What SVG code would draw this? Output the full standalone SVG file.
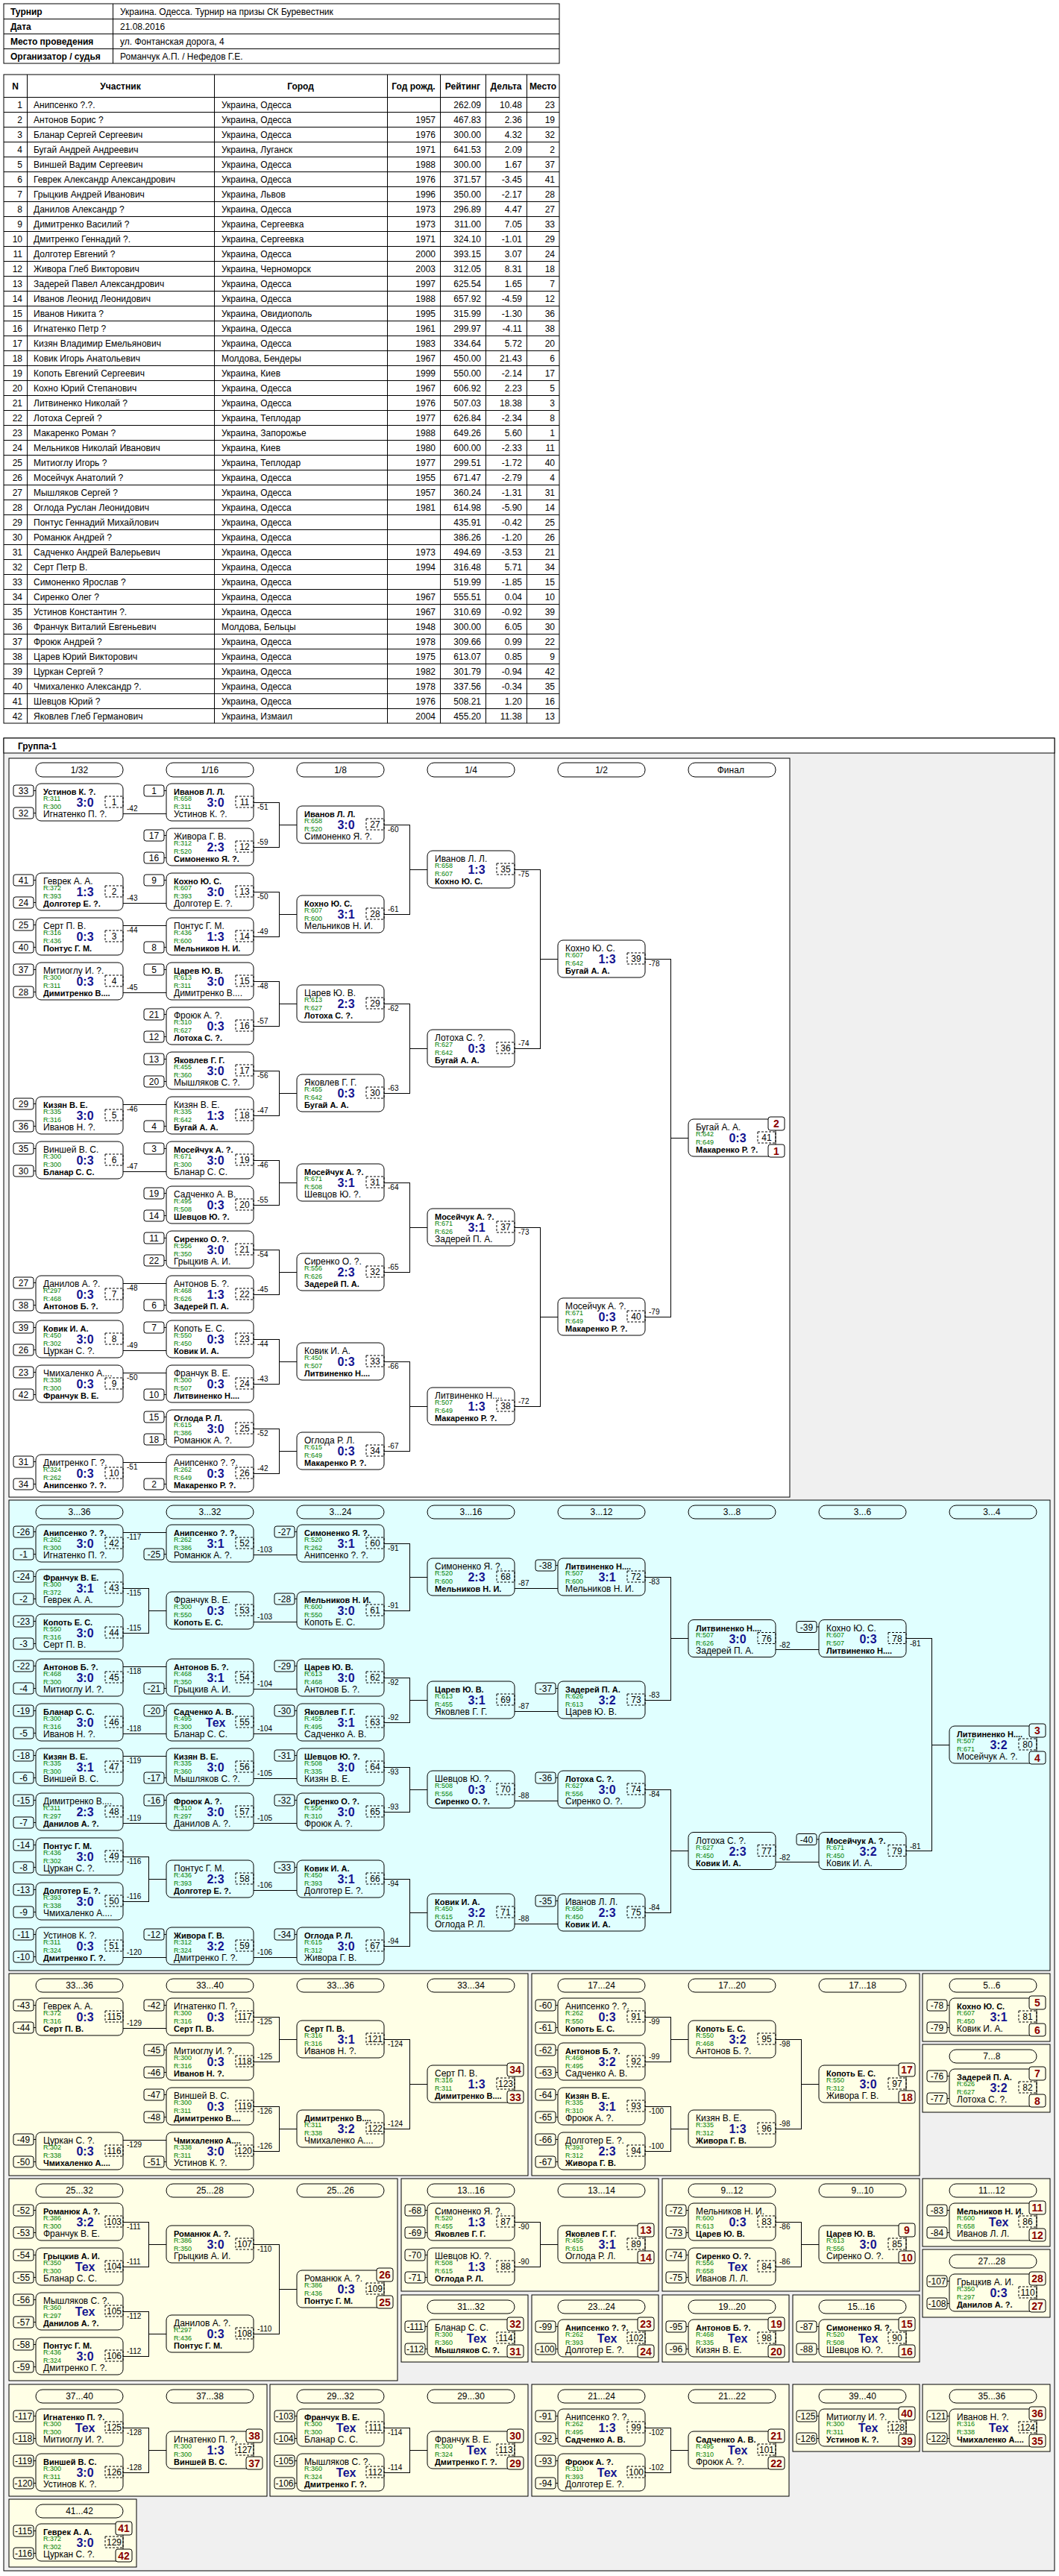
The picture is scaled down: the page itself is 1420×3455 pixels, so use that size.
<svg xmlns="http://www.w3.org/2000/svg" xmlns:xlink="http://www.w3.org/1999/xlink" width="1420" height="3455" viewBox="0 0 1420 3455">
<style>
text{font-family:"Liberation Sans",Arial,sans-serif;fill:#000}
.b{fill:none;stroke:#000}
.nb{fill:none;stroke:#000;stroke-dasharray:3 2}
.sb{fill:none;stroke:#000}
.tk{stroke:#000}
.pb{stroke:#000}
.w{font-size:11px;font-weight:bold}
.p{font-size:12px}
.r{font-size:9px;fill:#008000}
.s{font-size:16px;font-weight:bold;fill:#141490;text-anchor:middle}
.nt{font-size:12px;text-anchor:middle}
.st{font-size:12px;text-anchor:middle}
.pt{font-size:14px;font-weight:bold;fill:#8b0000;text-anchor:middle}
.l{font-size:10px}
.cn path{fill:none;stroke:#000}
.pl{fill:none;stroke:#000}
.ph{font-size:12px;text-anchor:middle}
.tb{font-size:12px}
.tbb{font-size:12px;font-weight:bold}
.e{text-anchor:end}
.grid{fill:none;stroke:#000}
</style>
<defs>
<g id="bx"><rect class="b" width="117" height="50" rx="7"/><rect class="nb" x="93" y="17" width="24" height="15"/></g>
<g id="sT"><rect class="sb" x="-30" y="2" width="27" height="15" rx="3"/><path class="tk" d="M-3 9.5H0"/></g>
<g id="sB"><rect class="sb" x="-30" y="32" width="27" height="15" rx="3"/><path class="tk" d="M-3 39.5H0"/></g>
<rect id="pT" class="pb" x="107" y="-3" width="22" height="18" rx="3"/>
<rect id="pB" class="pb" x="107" y="34" width="22" height="17" rx="3"/>
</defs>
<rect width="1420" height="3455" fill="#fff"/>

<g id="info">
<rect class="grid" x="5" y="5" width="745" height="80"/>
<path class="grid" shape-rendering="crispEdges" d="M5 25H750M5 45H750M5 65H750M151 5V85"/>
<text class="tbb" x="14" y="19.5">Турнир</text><text class="tb" x="161" y="19.5">Украина. Одесса. Турнир на призы СК Буревестник</text>
<text class="tbb" x="14" y="39.5">Дата</text><text class="tb" x="161" y="39.5">21.08.2016</text>
<text class="tbb" x="14" y="59.5">Место проведения</text><text class="tb" x="161" y="59.5">ул. Фонтанская дорога, 4</text>
<text class="tbb" x="14" y="79.5">Организатор / судья</text><text class="tb" x="161" y="79.5">Романчук А.П. / Нефедов Г.Е.</text>
</g>

<g id="participants">
<rect class="grid" x="5" y="100" width="745" height="870"/>
<path class="grid" shape-rendering="crispEdges" d="M36 100V970M287 100V970M519 100V970M590 100V970M651 100V970M706 100V970M5 130H750M5 150H750M5 170H750M5 190H750M5 210H750M5 230H750M5 250H750M5 270H750M5 290H750M5 310H750M5 330H750M5 350H750M5 370H750M5 390H750M5 410H750M5 430H750M5 450H750M5 470H750M5 490H750M5 510H750M5 530H750M5 550H750M5 570H750M5 590H750M5 610H750M5 630H750M5 650H750M5 670H750M5 690H750M5 710H750M5 730H750M5 750H750M5 770H750M5 790H750M5 810H750M5 830H750M5 850H750M5 870H750M5 890H750M5 910H750M5 930H750M5 950H750"/>
<text class="tbb" text-anchor="middle" y="119.5"><tspan x="20.5">N</tspan><tspan x="161.5">Участник</tspan><tspan x="403">Город</tspan><tspan x="554.5">Год рожд.</tspan><tspan x="620.5">Рейтинг</tspan><tspan x="678.5">Дельта</tspan><tspan x="728">Место</tspan></text>
<text class="tb e"><tspan x="30" y="144.5">1</tspan><tspan x="30" dy="20">2</tspan><tspan x="30" dy="20">3</tspan><tspan x="30" dy="20">4</tspan><tspan x="30" dy="20">5</tspan><tspan x="30" dy="20">6</tspan><tspan x="30" dy="20">7</tspan><tspan x="30" dy="20">8</tspan><tspan x="30" dy="20">9</tspan><tspan x="30" dy="20">10</tspan><tspan x="30" dy="20">11</tspan><tspan x="30" dy="20">12</tspan><tspan x="30" dy="20">13</tspan><tspan x="30" dy="20">14</tspan><tspan x="30" dy="20">15</tspan><tspan x="30" dy="20">16</tspan><tspan x="30" dy="20">17</tspan><tspan x="30" dy="20">18</tspan><tspan x="30" dy="20">19</tspan><tspan x="30" dy="20">20</tspan><tspan x="30" dy="20">21</tspan><tspan x="30" dy="20">22</tspan><tspan x="30" dy="20">23</tspan><tspan x="30" dy="20">24</tspan><tspan x="30" dy="20">25</tspan><tspan x="30" dy="20">26</tspan><tspan x="30" dy="20">27</tspan><tspan x="30" dy="20">28</tspan><tspan x="30" dy="20">29</tspan><tspan x="30" dy="20">30</tspan><tspan x="30" dy="20">31</tspan><tspan x="30" dy="20">32</tspan><tspan x="30" dy="20">33</tspan><tspan x="30" dy="20">34</tspan><tspan x="30" dy="20">35</tspan><tspan x="30" dy="20">36</tspan><tspan x="30" dy="20">37</tspan><tspan x="30" dy="20">38</tspan><tspan x="30" dy="20">39</tspan><tspan x="30" dy="20">40</tspan><tspan x="30" dy="20">41</tspan><tspan x="30" dy="20">42</tspan></text>
<text class="tb"><tspan x="45" y="144.5">Анипсенко ?.?.</tspan><tspan x="45" dy="20">Антонов Борис ?</tspan><tspan x="45" dy="20">Бланар Сергей Сергеевич</tspan><tspan x="45" dy="20">Бугай Андрей Андреевич</tspan><tspan x="45" dy="20">Виншей Вадим Сергеевич</tspan><tspan x="45" dy="20">Геврек Александр Александрович</tspan><tspan x="45" dy="20">Грыцкив Андрей Иванович</tspan><tspan x="45" dy="20">Данилов Александр ?</tspan><tspan x="45" dy="20">Димитренко Василий ?</tspan><tspan x="45" dy="20">Дмитренко Геннадий ?.</tspan><tspan x="45" dy="20">Долготер Евгений ?</tspan><tspan x="45" dy="20">Живора Глеб Викторович</tspan><tspan x="45" dy="20">Задерей Павел Александрович</tspan><tspan x="45" dy="20">Иванов Леонид Леонидович</tspan><tspan x="45" dy="20">Иванов Никита ?</tspan><tspan x="45" dy="20">Игнатенко Петр ?</tspan><tspan x="45" dy="20">Кизян Владимир Емельянович</tspan><tspan x="45" dy="20">Ковик Игорь Анатольевич</tspan><tspan x="45" dy="20">Копоть Евгений Сергеевич</tspan><tspan x="45" dy="20">Кохно Юрий Степанович</tspan><tspan x="45" dy="20">Литвиненко Николай ?</tspan><tspan x="45" dy="20">Лотоха Сергей ?</tspan><tspan x="45" dy="20">Макаренко Роман ?</tspan><tspan x="45" dy="20">Мельников Николай Иванович</tspan><tspan x="45" dy="20">Митиоглу Игорь ?</tspan><tspan x="45" dy="20">Мосейчук Анатолий ?</tspan><tspan x="45" dy="20">Мышляков Сергей ?</tspan><tspan x="45" dy="20">Оглода Руслан Леонидович</tspan><tspan x="45" dy="20">Понтус Геннадий Михайлович</tspan><tspan x="45" dy="20">Романюк Андрей ?</tspan><tspan x="45" dy="20">Садченко Андрей Валерьевич</tspan><tspan x="45" dy="20">Серт Петр В.</tspan><tspan x="45" dy="20">Симоненко Ярослав ?</tspan><tspan x="45" dy="20">Сиренко Олег ?</tspan><tspan x="45" dy="20">Устинов Константин ?.</tspan><tspan x="45" dy="20">Франчук Виталий Евгеньевич</tspan><tspan x="45" dy="20">Фроюк Андрей ?</tspan><tspan x="45" dy="20">Царев Юрий Викторович</tspan><tspan x="45" dy="20">Цуркан Сергей ?</tspan><tspan x="45" dy="20">Чмихаленко Александр ?.</tspan><tspan x="45" dy="20">Шевцов Юрий ?</tspan><tspan x="45" dy="20">Яковлев Глеб Германович</tspan></text>
<text class="tb"><tspan x="297" y="144.5">Украина, Одесса</tspan><tspan x="297" dy="20">Украина, Одесса</tspan><tspan x="297" dy="20">Украина, Одесса</tspan><tspan x="297" dy="20">Украина, Луганск</tspan><tspan x="297" dy="20">Украина, Одесса</tspan><tspan x="297" dy="20">Украина, Одесса</tspan><tspan x="297" dy="20">Украина, Львов</tspan><tspan x="297" dy="20">Украина, Одесса</tspan><tspan x="297" dy="20">Украина, Сергеевка</tspan><tspan x="297" dy="20">Украина, Сергеевка</tspan><tspan x="297" dy="20">Украина, Одесса</tspan><tspan x="297" dy="20">Украина, Черноморск</tspan><tspan x="297" dy="20">Украина, Одесса</tspan><tspan x="297" dy="20">Украина, Одесса</tspan><tspan x="297" dy="20">Украина, Овидиополь</tspan><tspan x="297" dy="20">Украина, Одесса</tspan><tspan x="297" dy="20">Украина, Одесса</tspan><tspan x="297" dy="20">Молдова, Бендеры</tspan><tspan x="297" dy="20">Украина, Киев</tspan><tspan x="297" dy="20">Украина, Одесса</tspan><tspan x="297" dy="20">Украина, Одесса</tspan><tspan x="297" dy="20">Украина, Теплодар</tspan><tspan x="297" dy="20">Украина, Запорожье</tspan><tspan x="297" dy="20">Украина, Киев</tspan><tspan x="297" dy="20">Украина, Теплодар</tspan><tspan x="297" dy="20">Украина, Одесса</tspan><tspan x="297" dy="20">Украина, Одесса</tspan><tspan x="297" dy="20">Украина, Одесса</tspan><tspan x="297" dy="20">Украина, Одесса</tspan><tspan x="297" dy="20">Украина, Одесса</tspan><tspan x="297" dy="20">Украина, Одесса</tspan><tspan x="297" dy="20">Украина, Одесса</tspan><tspan x="297" dy="20">Украина, Одесса</tspan><tspan x="297" dy="20">Украина, Одесса</tspan><tspan x="297" dy="20">Украина, Одесса</tspan><tspan x="297" dy="20">Молдова, Бельцы</tspan><tspan x="297" dy="20">Украина, Одесса</tspan><tspan x="297" dy="20">Украина, Одесса</tspan><tspan x="297" dy="20">Украина, Одесса</tspan><tspan x="297" dy="20">Украина, Одесса</tspan><tspan x="297" dy="20">Украина, Одесса</tspan><tspan x="297" dy="20">Украина, Измаил</tspan></text>
<text class="tb e"><tspan x="584" y="164.5">1957</tspan><tspan x="584" dy="20">1976</tspan><tspan x="584" dy="20">1971</tspan><tspan x="584" dy="20">1988</tspan><tspan x="584" dy="20">1976</tspan><tspan x="584" dy="20">1996</tspan><tspan x="584" dy="20">1973</tspan><tspan x="584" dy="20">1973</tspan><tspan x="584" dy="20">1971</tspan><tspan x="584" dy="20">2000</tspan><tspan x="584" dy="20">2003</tspan><tspan x="584" dy="20">1997</tspan><tspan x="584" dy="20">1988</tspan><tspan x="584" dy="20">1995</tspan><tspan x="584" dy="20">1961</tspan><tspan x="584" dy="20">1983</tspan><tspan x="584" dy="20">1967</tspan><tspan x="584" dy="20">1999</tspan><tspan x="584" dy="20">1967</tspan><tspan x="584" dy="20">1976</tspan><tspan x="584" dy="20">1977</tspan><tspan x="584" dy="20">1988</tspan><tspan x="584" dy="20">1980</tspan><tspan x="584" dy="20">1977</tspan><tspan x="584" dy="20">1955</tspan><tspan x="584" dy="20">1957</tspan><tspan x="584" dy="20">1981</tspan><tspan x="584" y="744.5">1973</tspan><tspan x="584" dy="20">1994</tspan><tspan x="584" y="804.5">1967</tspan><tspan x="584" dy="20">1967</tspan><tspan x="584" dy="20">1948</tspan><tspan x="584" dy="20">1978</tspan><tspan x="584" dy="20">1975</tspan><tspan x="584" dy="20">1982</tspan><tspan x="584" dy="20">1978</tspan><tspan x="584" dy="20">1976</tspan><tspan x="584" dy="20">2004</tspan></text>
<text class="tb e"><tspan x="645" y="144.5">262.09</tspan><tspan x="645" dy="20">467.83</tspan><tspan x="645" dy="20">300.00</tspan><tspan x="645" dy="20">641.53</tspan><tspan x="645" dy="20">300.00</tspan><tspan x="645" dy="20">371.57</tspan><tspan x="645" dy="20">350.00</tspan><tspan x="645" dy="20">296.89</tspan><tspan x="645" dy="20">311.00</tspan><tspan x="645" dy="20">324.10</tspan><tspan x="645" dy="20">393.15</tspan><tspan x="645" dy="20">312.05</tspan><tspan x="645" dy="20">625.54</tspan><tspan x="645" dy="20">657.92</tspan><tspan x="645" dy="20">315.99</tspan><tspan x="645" dy="20">299.97</tspan><tspan x="645" dy="20">334.64</tspan><tspan x="645" dy="20">450.00</tspan><tspan x="645" dy="20">550.00</tspan><tspan x="645" dy="20">606.92</tspan><tspan x="645" dy="20">507.03</tspan><tspan x="645" dy="20">626.84</tspan><tspan x="645" dy="20">649.26</tspan><tspan x="645" dy="20">600.00</tspan><tspan x="645" dy="20">299.51</tspan><tspan x="645" dy="20">671.47</tspan><tspan x="645" dy="20">360.24</tspan><tspan x="645" dy="20">614.98</tspan><tspan x="645" dy="20">435.91</tspan><tspan x="645" dy="20">386.26</tspan><tspan x="645" dy="20">494.69</tspan><tspan x="645" dy="20">316.48</tspan><tspan x="645" dy="20">519.99</tspan><tspan x="645" dy="20">555.51</tspan><tspan x="645" dy="20">310.69</tspan><tspan x="645" dy="20">300.00</tspan><tspan x="645" dy="20">309.66</tspan><tspan x="645" dy="20">613.07</tspan><tspan x="645" dy="20">301.79</tspan><tspan x="645" dy="20">337.56</tspan><tspan x="645" dy="20">508.21</tspan><tspan x="645" dy="20">455.20</tspan></text>
<text class="tb e"><tspan x="700" y="144.5">10.48</tspan><tspan x="700" dy="20">2.36</tspan><tspan x="700" dy="20">4.32</tspan><tspan x="700" dy="20">2.09</tspan><tspan x="700" dy="20">1.67</tspan><tspan x="700" dy="20">-3.45</tspan><tspan x="700" dy="20">-2.17</tspan><tspan x="700" dy="20">4.47</tspan><tspan x="700" dy="20">7.05</tspan><tspan x="700" dy="20">-1.01</tspan><tspan x="700" dy="20">3.07</tspan><tspan x="700" dy="20">8.31</tspan><tspan x="700" dy="20">1.65</tspan><tspan x="700" dy="20">-4.59</tspan><tspan x="700" dy="20">-1.30</tspan><tspan x="700" dy="20">-4.11</tspan><tspan x="700" dy="20">5.72</tspan><tspan x="700" dy="20">21.43</tspan><tspan x="700" dy="20">-2.14</tspan><tspan x="700" dy="20">2.23</tspan><tspan x="700" dy="20">18.38</tspan><tspan x="700" dy="20">-2.34</tspan><tspan x="700" dy="20">5.60</tspan><tspan x="700" dy="20">-2.33</tspan><tspan x="700" dy="20">-1.72</tspan><tspan x="700" dy="20">-2.79</tspan><tspan x="700" dy="20">-1.31</tspan><tspan x="700" dy="20">-5.90</tspan><tspan x="700" dy="20">-0.42</tspan><tspan x="700" dy="20">-1.20</tspan><tspan x="700" dy="20">-3.53</tspan><tspan x="700" dy="20">5.71</tspan><tspan x="700" dy="20">-1.85</tspan><tspan x="700" dy="20">0.04</tspan><tspan x="700" dy="20">-0.92</tspan><tspan x="700" dy="20">6.05</tspan><tspan x="700" dy="20">0.99</tspan><tspan x="700" dy="20">0.85</tspan><tspan x="700" dy="20">-0.94</tspan><tspan x="700" dy="20">-0.34</tspan><tspan x="700" dy="20">1.20</tspan><tspan x="700" dy="20">11.38</tspan></text>
<text class="tb e"><tspan x="744" y="144.5">23</tspan><tspan x="744" dy="20">19</tspan><tspan x="744" dy="20">32</tspan><tspan x="744" dy="20">2</tspan><tspan x="744" dy="20">37</tspan><tspan x="744" dy="20">41</tspan><tspan x="744" dy="20">28</tspan><tspan x="744" dy="20">27</tspan><tspan x="744" dy="20">33</tspan><tspan x="744" dy="20">29</tspan><tspan x="744" dy="20">24</tspan><tspan x="744" dy="20">18</tspan><tspan x="744" dy="20">7</tspan><tspan x="744" dy="20">12</tspan><tspan x="744" dy="20">36</tspan><tspan x="744" dy="20">38</tspan><tspan x="744" dy="20">20</tspan><tspan x="744" dy="20">6</tspan><tspan x="744" dy="20">17</tspan><tspan x="744" dy="20">5</tspan><tspan x="744" dy="20">3</tspan><tspan x="744" dy="20">8</tspan><tspan x="744" dy="20">1</tspan><tspan x="744" dy="20">11</tspan><tspan x="744" dy="20">40</tspan><tspan x="744" dy="20">4</tspan><tspan x="744" dy="20">31</tspan><tspan x="744" dy="20">14</tspan><tspan x="744" dy="20">25</tspan><tspan x="744" dy="20">26</tspan><tspan x="744" dy="20">21</tspan><tspan x="744" dy="20">34</tspan><tspan x="744" dy="20">15</tspan><tspan x="744" dy="20">10</tspan><tspan x="744" dy="20">39</tspan><tspan x="744" dy="20">30</tspan><tspan x="744" dy="20">22</tspan><tspan x="744" dy="20">9</tspan><tspan x="744" dy="20">42</tspan><tspan x="744" dy="20">35</tspan><tspan x="744" dy="20">16</tspan><tspan x="744" dy="20">13</tspan></text>
</g>

<g id="panels">
<rect x="5" y="990" width="1409" height="2458" fill="#f0f0f0" stroke="#000"/>
<rect x="5" y="990" width="1409" height="20" fill="#fff" stroke="#000"/>
<text class="tbb" x="24" y="1004.5">Группа-1</text>
<rect x="12" y="1017" width="1047" height="991" fill="#fff" stroke="#000"/>
<rect x="12" y="2012" width="1396" height="631" fill="#e0ffff" stroke="#000"/>
<g fill="#ffffe6" stroke="#000">
<rect x="12" y="2647" width="696" height="271"/>
<rect x="713" y="2647" width="520" height="271"/>
<rect x="1237" y="2647" width="171" height="91"/>
<rect x="1237" y="2742" width="171" height="91"/>
<rect x="12" y="2922" width="521" height="271"/>
<rect x="538" y="2922" width="345" height="151"/>
<rect x="888" y="2922" width="345" height="151"/>
<rect x="1237" y="2922" width="171" height="91"/>
<rect x="1237" y="3017" width="171" height="91"/>
<rect x="538" y="3078" width="170" height="90"/>
<rect x="713" y="3078" width="170" height="90"/>
<rect x="888" y="3078" width="170" height="90"/>
<rect x="1063" y="3078" width="170" height="90"/>
<rect x="12" y="3198" width="346" height="150"/>
<rect x="362" y="3198" width="346" height="150"/>
<rect x="713" y="3198" width="345" height="150"/>
<rect x="1063" y="3198" width="170" height="90"/>
<rect x="1237" y="3198" width="171" height="90"/>
<rect x="12" y="3352" width="171" height="91"/>
</g>
<g id="round-headers">
<g class="pl">
<rect x="48" y="1023" width="117" height="19" rx="9"/><rect x="223" y="1023" width="117" height="19" rx="9"/><rect x="398" y="1023" width="117" height="19" rx="9"/><rect x="573" y="1023" width="117" height="19" rx="9"/><rect x="748" y="1023" width="117" height="19" rx="9"/><rect x="923" y="1023" width="117" height="19" rx="9"/>
<rect x="48" y="2019" width="117" height="18" rx="9"/><rect x="223" y="2019" width="117" height="18" rx="9"/><rect x="398" y="2019" width="117" height="18" rx="9"/><rect x="573" y="2019" width="117" height="18" rx="9"/><rect x="748" y="2019" width="117" height="18" rx="9"/><rect x="923" y="2019" width="117" height="18" rx="9"/><rect x="1098" y="2019" width="117" height="18" rx="9"/><rect x="1273" y="2019" width="117" height="18" rx="9"/>
<rect x="48" y="2654" width="117" height="18" rx="9"/><rect x="223" y="2654" width="117" height="18" rx="9"/><rect x="398" y="2654" width="117" height="18" rx="9"/><rect x="573" y="2654" width="117" height="18" rx="9"/><rect x="748" y="2654" width="117" height="18" rx="9"/><rect x="923" y="2654" width="117" height="18" rx="9"/><rect x="1098" y="2654" width="117" height="18" rx="9"/><rect x="1273" y="2654" width="117" height="18" rx="9"/>
<rect x="1273" y="2749" width="117" height="18" rx="9"/>
<rect x="48" y="2929" width="117" height="18" rx="9"/><rect x="223" y="2929" width="117" height="18" rx="9"/><rect x="398" y="2929" width="117" height="18" rx="9"/><rect x="573" y="2929" width="117" height="18" rx="9"/><rect x="748" y="2929" width="117" height="18" rx="9"/><rect x="923" y="2929" width="117" height="18" rx="9"/><rect x="1098" y="2929" width="117" height="18" rx="9"/><rect x="1273" y="2929" width="117" height="18" rx="9"/>
<rect x="1273" y="3024" width="117" height="18" rx="9"/>
<rect x="573" y="3085" width="117" height="18" rx="9"/><rect x="748" y="3085" width="117" height="18" rx="9"/><rect x="923" y="3085" width="117" height="18" rx="9"/><rect x="1098" y="3085" width="117" height="18" rx="9"/>
<rect x="48" y="3205" width="117" height="18" rx="9"/><rect x="223" y="3205" width="117" height="18" rx="9"/><rect x="398" y="3205" width="117" height="18" rx="9"/><rect x="573" y="3205" width="117" height="18" rx="9"/><rect x="748" y="3205" width="117" height="18" rx="9"/><rect x="923" y="3205" width="117" height="18" rx="9"/><rect x="1098" y="3205" width="117" height="18" rx="9"/><rect x="1273" y="3205" width="117" height="18" rx="9"/>
<rect x="48" y="3359" width="117" height="18" rx="9"/>
</g>
<text class="ph"><tspan x="106.5" y="1037">1/32</tspan><tspan x="281.5" y="1037">1/16</tspan><tspan x="456.5" y="1037">1/8</tspan><tspan x="631.5" y="1037">1/4</tspan><tspan x="806.5" y="1037">1/2</tspan><tspan x="981.5" y="1037">Финал</tspan>
<tspan x="106.5" y="2032">3...36</tspan><tspan x="281.5" y="2032">3...32</tspan><tspan x="456.5" y="2032">3...24</tspan><tspan x="631.5" y="2032">3...16</tspan><tspan x="806.5" y="2032">3...12</tspan><tspan x="981.5" y="2032">3...8</tspan><tspan x="1156.5" y="2032">3...6</tspan><tspan x="1331.5" y="2032">3...4</tspan>
<tspan x="106.5" y="2667">33...36</tspan><tspan x="281.5" y="2667">33...40</tspan><tspan x="456.5" y="2667">33...36</tspan><tspan x="631.5" y="2667">33...34</tspan><tspan x="806.5" y="2667">17...24</tspan><tspan x="981.5" y="2667">17...20</tspan><tspan x="1156.5" y="2667">17...18</tspan><tspan x="1331.5" y="2667">5...6</tspan>
<tspan x="1331.5" y="2762">7...8</tspan>
<tspan x="106.5" y="2942">25...32</tspan><tspan x="281.5" y="2942">25...28</tspan><tspan x="456.5" y="2942">25...26</tspan><tspan x="631.5" y="2942">13...16</tspan><tspan x="806.5" y="2942">13...14</tspan><tspan x="981.5" y="2942">9...12</tspan><tspan x="1156.5" y="2942">9...10</tspan><tspan x="1331.5" y="2942">11...12</tspan>
<tspan x="1331.5" y="3037">27...28</tspan>
<tspan x="631.5" y="3098">31...32</tspan><tspan x="806.5" y="3098">23...24</tspan><tspan x="981.5" y="3098">19...20</tspan><tspan x="1156.5" y="3098">15...16</tspan>
<tspan x="106.5" y="3218">37...40</tspan><tspan x="281.5" y="3218">37...38</tspan><tspan x="456.5" y="3218">29...32</tspan><tspan x="631.5" y="3218">29...30</tspan><tspan x="806.5" y="3218">21...24</tspan><tspan x="981.5" y="3218">21...22</tspan><tspan x="1156.5" y="3218">39...40</tspan><tspan x="1331.5" y="3218">35...36</tspan>
<tspan x="106.5" y="3372">41...42</tspan></text>
</g>
</g>

<g id="connectors" class="cn" shape-rendering="crispEdges">
<path d="M165 1091H223M165 1211H223M165 1241H223M165 1331H223M165 1481H223M165 1571H223M165 1721H223M165 1811H223M165 1841H223M165 1961H223"/>
<path d="M340 1076H374V1136H340M374 1106H398M340 1196H374V1256H340M374 1226H398M340 1316H374V1376H340M374 1346H398M340 1436H374V1496H340M374 1466H398M340 1556H374V1616H340M374 1586H398M340 1676H374V1736H340M374 1706H398M340 1796H374V1856H340M374 1826H398M340 1916H374V1976H340M374 1946H398"/>
<path d="M515 1106H549V1226H515M549 1166H573M515 1346H549V1466H515M549 1406H573M515 1586H549V1706H515M549 1646H573M515 1826H549V1946H515M549 1886H573"/>
<path d="M690 1166H724V1406H690M724 1286H748M690 1646H724V1886H690M724 1766H748M865 1286H899V1766H865M899 1526H923"/>
<path d="M165 2055H223M165 2235H223M165 2325H223M165 2355H223M165 2445H223M165 2625H223M165 2130H199V2190H165M199 2160H223M165 2490H199V2550H165M199 2520H223"/>
<path d="M340 2085H398M340 2175H398M340 2265H398M340 2325H398M340 2385H398M340 2445H398M340 2535H398M340 2625H398"/>
<path d="M515 2070H549V2160H515M549 2115H573M515 2250H549V2310H515M549 2280H573M515 2370H549V2430H515M549 2400H573M515 2520H549V2610H515M549 2565H573"/>
<path d="M690 2130H748M690 2295H748M690 2415H748M690 2580H748M865 2115H899V2280H865M899 2197.5H923M865 2400H899V2565H865M899 2482.5H923M1040 2212.5H1098M1040 2497.5H1098M1215 2197.5H1249V2482.5H1215M1249 2340H1273"/>
<path d="M165 2720H223M165 2870H223M340 2705H374V2765H340M374 2735H398M340 2825H374V2885H340M374 2855H398M515 2735H549V2855H515M549 2795H573"/>
<path d="M865 2705H899V2765H865M899 2735H923M865 2825H899V2885H865M899 2855H923M1040 2735H1074V2855H1040M1074 2795H1098"/>
<path d="M165 2980H199V3040H165M199 3010H223M165 3100H199V3160H165M199 3130H223M340 3010H374V3130H340M374 3070H398M690 2980H724V3040H690M724 3010H748M1040 2980H1074V3040H1040M1074 3010H1098"/>
<path d="M165 3256H199V3316H165M199 3286H223M515 3256H549V3316H515M549 3286H573M865 3256H899V3316H865M899 3286H923"/>
<text class="l"><tspan x="170" y="1088">-42</tspan><tspan x="170" y="1208">-43</tspan><tspan x="170" y="1251">-44</tspan><tspan x="170" y="1328">-45</tspan><tspan x="170" y="1491">-46</tspan><tspan x="170" y="1568">-47</tspan><tspan x="170" y="1731">-48</tspan><tspan x="170" y="1808">-49</tspan><tspan x="170" y="1851">-50</tspan><tspan x="170" y="1971">-51</tspan>
<tspan x="345" y="1086">-51</tspan><tspan x="345" y="1133">-59</tspan><tspan x="345" y="1206">-50</tspan><tspan x="345" y="1253">-49</tspan><tspan x="345" y="1326">-48</tspan><tspan x="345" y="1373">-57</tspan><tspan x="345" y="1446">-56</tspan><tspan x="345" y="1493">-47</tspan><tspan x="345" y="1566">-46</tspan><tspan x="345" y="1613">-55</tspan><tspan x="345" y="1686">-54</tspan><tspan x="345" y="1733">-45</tspan><tspan x="345" y="1806">-44</tspan><tspan x="345" y="1853">-43</tspan><tspan x="345" y="1926">-52</tspan><tspan x="345" y="1973">-42</tspan>
<tspan x="520" y="1116">-60</tspan><tspan x="520" y="1223">-61</tspan><tspan x="520" y="1356">-62</tspan><tspan x="520" y="1463">-63</tspan><tspan x="520" y="1596">-64</tspan><tspan x="520" y="1703">-65</tspan><tspan x="520" y="1836">-66</tspan><tspan x="520" y="1943">-67</tspan>
<tspan x="695" y="1176">-75</tspan><tspan x="695" y="1403">-74</tspan><tspan x="695" y="1656">-73</tspan><tspan x="695" y="1883">-72</tspan><tspan x="870" y="1296">-78</tspan><tspan x="870" y="1763">-79</tspan>
<tspan x="170" y="2065">-117</tspan><tspan x="170" y="2140">-115</tspan><tspan x="170" y="2187">-115</tspan><tspan x="170" y="2245">-118</tspan><tspan x="170" y="2322">-118</tspan><tspan x="170" y="2365">-119</tspan><tspan x="170" y="2442">-119</tspan><tspan x="170" y="2500">-116</tspan><tspan x="170" y="2547">-116</tspan><tspan x="170" y="2622">-120</tspan>
<tspan x="345" y="2082">-103</tspan><tspan x="345" y="2172">-103</tspan><tspan x="345" y="2262">-104</tspan><tspan x="345" y="2322">-104</tspan><tspan x="345" y="2382">-105</tspan><tspan x="345" y="2442">-105</tspan><tspan x="345" y="2532">-106</tspan><tspan x="345" y="2622">-106</tspan>
<tspan x="520" y="2080">-91</tspan><tspan x="520" y="2157">-91</tspan><tspan x="520" y="2260">-92</tspan><tspan x="520" y="2307">-92</tspan><tspan x="520" y="2380">-93</tspan><tspan x="520" y="2427">-93</tspan><tspan x="520" y="2530">-94</tspan><tspan x="520" y="2607">-94</tspan>
<tspan x="695" y="2127">-87</tspan><tspan x="695" y="2292">-87</tspan><tspan x="695" y="2412">-88</tspan><tspan x="695" y="2577">-88</tspan>
<tspan x="870" y="2125">-83</tspan><tspan x="870" y="2277">-83</tspan><tspan x="870" y="2410">-84</tspan><tspan x="870" y="2562">-84</tspan>
<tspan x="1045" y="2209.5">-82</tspan><tspan x="1045" y="2494.5">-82</tspan><tspan x="1220" y="2207.5">-81</tspan><tspan x="1220" y="2479.5">-81</tspan>
<tspan x="170" y="2717">-129</tspan><tspan x="170" y="2880">-129</tspan><tspan x="345" y="2715">-125</tspan><tspan x="345" y="2762">-125</tspan><tspan x="345" y="2835">-126</tspan><tspan x="345" y="2882">-126</tspan><tspan x="520" y="2745">-124</tspan><tspan x="520" y="2852">-124</tspan>
<tspan x="870" y="2715">-99</tspan><tspan x="870" y="2762">-99</tspan><tspan x="870" y="2835">-100</tspan><tspan x="870" y="2882">-100</tspan><tspan x="1045" y="2745">-98</tspan><tspan x="1045" y="2852">-98</tspan>
<tspan x="170" y="2990">-111</tspan><tspan x="170" y="3037">-111</tspan><tspan x="170" y="3110">-112</tspan><tspan x="170" y="3157">-112</tspan><tspan x="345" y="3020">-110</tspan><tspan x="345" y="3127">-110</tspan>
<tspan x="695" y="2990">-90</tspan><tspan x="695" y="3037">-90</tspan><tspan x="1045" y="2990">-86</tspan><tspan x="1045" y="3037">-86</tspan>
<tspan x="170" y="3266">-128</tspan><tspan x="170" y="3313">-128</tspan><tspan x="520" y="3266">-114</tspan><tspan x="520" y="3313">-114</tspan><tspan x="870" y="3266">-102</tspan><tspan x="870" y="3313">-102</tspan></text>
</g>

<g id="matches">
<g id="m1" transform="translate(48,1051)"><use href="#bx"/><text class="nt" x="105" y="29">1</text><text class="w" x="10" y="15">Устинов К. ?.</text><text class="r" x="10" y="23">R:311</text><text class="s" x="66" y="31">3:0</text><text class="r" x="10" y="34">R:300</text><text class="p" x="10" y="45">Игнатенко П. ?.</text><use href="#sT"/><text class="st" x="-16.5" y="14">33</text><use href="#sB"/><text class="st" x="-16.5" y="44">32</text></g>
<g id="m2" transform="translate(48,1171)"><use href="#bx"/><text class="nt" x="105" y="29">2</text><text class="p" x="10" y="15">Геврек А. А.</text><text class="r" x="10" y="23">R:372</text><text class="s" x="66" y="31">1:3</text><text class="r" x="10" y="34">R:393</text><text class="w" x="10" y="45">Долготер Е. ?.</text><use href="#sT"/><text class="st" x="-16.5" y="14">41</text><use href="#sB"/><text class="st" x="-16.5" y="44">24</text></g>
<g id="m3" transform="translate(48,1231)"><use href="#bx"/><text class="nt" x="105" y="29">3</text><text class="p" x="10" y="15">Серт П. В.</text><text class="r" x="10" y="23">R:316</text><text class="s" x="66" y="31">0:3</text><text class="r" x="10" y="34">R:436</text><text class="w" x="10" y="45">Понтус Г. М.</text><use href="#sT"/><text class="st" x="-16.5" y="14">25</text><use href="#sB"/><text class="st" x="-16.5" y="44">40</text></g>
<g id="m4" transform="translate(48,1291)"><use href="#bx"/><text class="nt" x="105" y="29">4</text><text class="p" x="10" y="15">Митиоглу И. ?.</text><text class="r" x="10" y="23">R:300</text><text class="s" x="66" y="31">0:3</text><text class="r" x="10" y="34">R:311</text><text class="w" x="10" y="45">Димитренко В....</text><use href="#sT"/><text class="st" x="-16.5" y="14">37</text><use href="#sB"/><text class="st" x="-16.5" y="44">28</text></g>
<g id="m5" transform="translate(48,1471)"><use href="#bx"/><text class="nt" x="105" y="29">5</text><text class="w" x="10" y="15">Кизян В. Е.</text><text class="r" x="10" y="23">R:335</text><text class="s" x="66" y="31">3:0</text><text class="r" x="10" y="34">R:316</text><text class="p" x="10" y="45">Иванов Н. ?.</text><use href="#sT"/><text class="st" x="-16.5" y="14">29</text><use href="#sB"/><text class="st" x="-16.5" y="44">36</text></g>
<g id="m6" transform="translate(48,1531)"><use href="#bx"/><text class="nt" x="105" y="29">6</text><text class="p" x="10" y="15">Виншей В. С.</text><text class="r" x="10" y="23">R:300</text><text class="s" x="66" y="31">0:3</text><text class="r" x="10" y="34">R:300</text><text class="w" x="10" y="45">Бланар С. С.</text><use href="#sT"/><text class="st" x="-16.5" y="14">35</text><use href="#sB"/><text class="st" x="-16.5" y="44">30</text></g>
<g id="m7" transform="translate(48,1711)"><use href="#bx"/><text class="nt" x="105" y="29">7</text><text class="p" x="10" y="15">Данилов А. ?.</text><text class="r" x="10" y="23">R:297</text><text class="s" x="66" y="31">0:3</text><text class="r" x="10" y="34">R:468</text><text class="w" x="10" y="45">Антонов Б. ?.</text><use href="#sT"/><text class="st" x="-16.5" y="14">27</text><use href="#sB"/><text class="st" x="-16.5" y="44">38</text></g>
<g id="m8" transform="translate(48,1771)"><use href="#bx"/><text class="nt" x="105" y="29">8</text><text class="w" x="10" y="15">Ковик И. А.</text><text class="r" x="10" y="23">R:450</text><text class="s" x="66" y="31">3:0</text><text class="r" x="10" y="34">R:302</text><text class="p" x="10" y="45">Цуркан С. ?.</text><use href="#sT"/><text class="st" x="-16.5" y="14">39</text><use href="#sB"/><text class="st" x="-16.5" y="44">26</text></g>
<g id="m9" transform="translate(48,1831)"><use href="#bx"/><text class="nt" x="105" y="29">9</text><text class="p" x="10" y="15">Чмихаленко А....</text><text class="r" x="10" y="23">R:338</text><text class="s" x="66" y="31">0:3</text><text class="r" x="10" y="34">R:300</text><text class="w" x="10" y="45">Франчук В. Е.</text><use href="#sT"/><text class="st" x="-16.5" y="14">23</text><use href="#sB"/><text class="st" x="-16.5" y="44">42</text></g>
<g id="m10" transform="translate(48,1951)"><use href="#bx"/><text class="nt" x="105" y="29">10</text><text class="p" x="10" y="15">Дмитренко Г. ?.</text><text class="r" x="10" y="23">R:324</text><text class="s" x="66" y="31">0:3</text><text class="r" x="10" y="34">R:262</text><text class="w" x="10" y="45">Анипсенко ?. ?.</text><use href="#sT"/><text class="st" x="-16.5" y="14">31</text><use href="#sB"/><text class="st" x="-16.5" y="44">34</text></g>
<g id="m11" transform="translate(223,1051)"><use href="#bx"/><text class="nt" x="105" y="29">11</text><text class="w" x="10" y="15">Иванов Л. Л.</text><text class="r" x="10" y="23">R:658</text><text class="s" x="66" y="31">3:0</text><text class="r" x="10" y="34">R:311</text><text class="p" x="10" y="45">Устинов К. ?.</text><use href="#sT"/><text class="st" x="-16.5" y="14">1</text></g>
<g id="m12" transform="translate(223,1111)"><use href="#bx"/><text class="nt" x="105" y="29">12</text><text class="p" x="10" y="15">Живора Г. В.</text><text class="r" x="10" y="23">R:312</text><text class="s" x="66" y="31">2:3</text><text class="r" x="10" y="34">R:520</text><text class="w" x="10" y="45">Симоненко Я. ?.</text><use href="#sT"/><text class="st" x="-16.5" y="14">17</text><use href="#sB"/><text class="st" x="-16.5" y="44">16</text></g>
<g id="m13" transform="translate(223,1171)"><use href="#bx"/><text class="nt" x="105" y="29">13</text><text class="w" x="10" y="15">Кохно Ю. С.</text><text class="r" x="10" y="23">R:607</text><text class="s" x="66" y="31">3:0</text><text class="r" x="10" y="34">R:393</text><text class="p" x="10" y="45">Долготер Е. ?.</text><use href="#sT"/><text class="st" x="-16.5" y="14">9</text></g>
<g id="m14" transform="translate(223,1231)"><use href="#bx"/><text class="nt" x="105" y="29">14</text><text class="p" x="10" y="15">Понтус Г. М.</text><text class="r" x="10" y="23">R:436</text><text class="s" x="66" y="31">1:3</text><text class="r" x="10" y="34">R:600</text><text class="w" x="10" y="45">Мельников Н. И.</text><use href="#sB"/><text class="st" x="-16.5" y="44">8</text></g>
<g id="m15" transform="translate(223,1291)"><use href="#bx"/><text class="nt" x="105" y="29">15</text><text class="w" x="10" y="15">Царев Ю. В.</text><text class="r" x="10" y="23">R:613</text><text class="s" x="66" y="31">3:0</text><text class="r" x="10" y="34">R:311</text><text class="p" x="10" y="45">Димитренко В....</text><use href="#sT"/><text class="st" x="-16.5" y="14">5</text></g>
<g id="m16" transform="translate(223,1351)"><use href="#bx"/><text class="nt" x="105" y="29">16</text><text class="p" x="10" y="15">Фроюк А. ?.</text><text class="r" x="10" y="23">R:310</text><text class="s" x="66" y="31">0:3</text><text class="r" x="10" y="34">R:627</text><text class="w" x="10" y="45">Лотоха С. ?.</text><use href="#sT"/><text class="st" x="-16.5" y="14">21</text><use href="#sB"/><text class="st" x="-16.5" y="44">12</text></g>
<g id="m17" transform="translate(223,1411)"><use href="#bx"/><text class="nt" x="105" y="29">17</text><text class="w" x="10" y="15">Яковлев Г. Г.</text><text class="r" x="10" y="23">R:455</text><text class="s" x="66" y="31">3:0</text><text class="r" x="10" y="34">R:360</text><text class="p" x="10" y="45">Мышляков С. ?.</text><use href="#sT"/><text class="st" x="-16.5" y="14">13</text><use href="#sB"/><text class="st" x="-16.5" y="44">20</text></g>
<g id="m18" transform="translate(223,1471)"><use href="#bx"/><text class="nt" x="105" y="29">18</text><text class="p" x="10" y="15">Кизян В. Е.</text><text class="r" x="10" y="23">R:335</text><text class="s" x="66" y="31">1:3</text><text class="r" x="10" y="34">R:642</text><text class="w" x="10" y="45">Бугай А. А.</text><use href="#sB"/><text class="st" x="-16.5" y="44">4</text></g>
<g id="m19" transform="translate(223,1531)"><use href="#bx"/><text class="nt" x="105" y="29">19</text><text class="w" x="10" y="15">Мосейчук А. ?.</text><text class="r" x="10" y="23">R:671</text><text class="s" x="66" y="31">3:0</text><text class="r" x="10" y="34">R:300</text><text class="p" x="10" y="45">Бланар С. С.</text><use href="#sT"/><text class="st" x="-16.5" y="14">3</text></g>
<g id="m20" transform="translate(223,1591)"><use href="#bx"/><text class="nt" x="105" y="29">20</text><text class="p" x="10" y="15">Садченко А. В.</text><text class="r" x="10" y="23">R:495</text><text class="s" x="66" y="31">0:3</text><text class="r" x="10" y="34">R:508</text><text class="w" x="10" y="45">Шевцов Ю. ?.</text><use href="#sT"/><text class="st" x="-16.5" y="14">19</text><use href="#sB"/><text class="st" x="-16.5" y="44">14</text></g>
<g id="m21" transform="translate(223,1651)"><use href="#bx"/><text class="nt" x="105" y="29">21</text><text class="w" x="10" y="15">Сиренко О. ?.</text><text class="r" x="10" y="23">R:556</text><text class="s" x="66" y="31">3:0</text><text class="r" x="10" y="34">R:350</text><text class="p" x="10" y="45">Грыцкив А. И.</text><use href="#sT"/><text class="st" x="-16.5" y="14">11</text><use href="#sB"/><text class="st" x="-16.5" y="44">22</text></g>
<g id="m22" transform="translate(223,1711)"><use href="#bx"/><text class="nt" x="105" y="29">22</text><text class="p" x="10" y="15">Антонов Б. ?.</text><text class="r" x="10" y="23">R:468</text><text class="s" x="66" y="31">1:3</text><text class="r" x="10" y="34">R:626</text><text class="w" x="10" y="45">Задерей П. А.</text><use href="#sB"/><text class="st" x="-16.5" y="44">6</text></g>
<g id="m23" transform="translate(223,1771)"><use href="#bx"/><text class="nt" x="105" y="29">23</text><text class="p" x="10" y="15">Копоть Е. С.</text><text class="r" x="10" y="23">R:550</text><text class="s" x="66" y="31">0:3</text><text class="r" x="10" y="34">R:450</text><text class="w" x="10" y="45">Ковик И. А.</text><use href="#sT"/><text class="st" x="-16.5" y="14">7</text></g>
<g id="m24" transform="translate(223,1831)"><use href="#bx"/><text class="nt" x="105" y="29">24</text><text class="p" x="10" y="15">Франчук В. Е.</text><text class="r" x="10" y="23">R:300</text><text class="s" x="66" y="31">0:3</text><text class="r" x="10" y="34">R:507</text><text class="w" x="10" y="45">Литвиненко Н....</text><use href="#sB"/><text class="st" x="-16.5" y="44">10</text></g>
<g id="m25" transform="translate(223,1891)"><use href="#bx"/><text class="nt" x="105" y="29">25</text><text class="w" x="10" y="15">Оглода Р. Л.</text><text class="r" x="10" y="23">R:615</text><text class="s" x="66" y="31">3:0</text><text class="r" x="10" y="34">R:386</text><text class="p" x="10" y="45">Романюк А. ?.</text><use href="#sT"/><text class="st" x="-16.5" y="14">15</text><use href="#sB"/><text class="st" x="-16.5" y="44">18</text></g>
<g id="m26" transform="translate(223,1951)"><use href="#bx"/><text class="nt" x="105" y="29">26</text><text class="p" x="10" y="15">Анипсенко ?. ?.</text><text class="r" x="10" y="23">R:262</text><text class="s" x="66" y="31">0:3</text><text class="r" x="10" y="34">R:649</text><text class="w" x="10" y="45">Макаренко Р. ?.</text><use href="#sB"/><text class="st" x="-16.5" y="44">2</text></g>
<g id="m27" transform="translate(398,1081)"><use href="#bx"/><text class="nt" x="105" y="29">27</text><text class="w" x="10" y="15">Иванов Л. Л.</text><text class="r" x="10" y="23">R:658</text><text class="s" x="66" y="31">3:0</text><text class="r" x="10" y="34">R:520</text><text class="p" x="10" y="45">Симоненко Я. ?.</text></g>
<g id="m28" transform="translate(398,1201)"><use href="#bx"/><text class="nt" x="105" y="29">28</text><text class="w" x="10" y="15">Кохно Ю. С.</text><text class="r" x="10" y="23">R:607</text><text class="s" x="66" y="31">3:1</text><text class="r" x="10" y="34">R:600</text><text class="p" x="10" y="45">Мельников Н. И.</text></g>
<g id="m29" transform="translate(398,1321)"><use href="#bx"/><text class="nt" x="105" y="29">29</text><text class="p" x="10" y="15">Царев Ю. В.</text><text class="r" x="10" y="23">R:613</text><text class="s" x="66" y="31">2:3</text><text class="r" x="10" y="34">R:627</text><text class="w" x="10" y="45">Лотоха С. ?.</text></g>
<g id="m30" transform="translate(398,1441)"><use href="#bx"/><text class="nt" x="105" y="29">30</text><text class="p" x="10" y="15">Яковлев Г. Г.</text><text class="r" x="10" y="23">R:455</text><text class="s" x="66" y="31">0:3</text><text class="r" x="10" y="34">R:642</text><text class="w" x="10" y="45">Бугай А. А.</text></g>
<g id="m31" transform="translate(398,1561)"><use href="#bx"/><text class="nt" x="105" y="29">31</text><text class="w" x="10" y="15">Мосейчук А. ?.</text><text class="r" x="10" y="23">R:671</text><text class="s" x="66" y="31">3:1</text><text class="r" x="10" y="34">R:508</text><text class="p" x="10" y="45">Шевцов Ю. ?.</text></g>
<g id="m32" transform="translate(398,1681)"><use href="#bx"/><text class="nt" x="105" y="29">32</text><text class="p" x="10" y="15">Сиренко О. ?.</text><text class="r" x="10" y="23">R:556</text><text class="s" x="66" y="31">2:3</text><text class="r" x="10" y="34">R:626</text><text class="w" x="10" y="45">Задерей П. А.</text></g>
<g id="m33" transform="translate(398,1801)"><use href="#bx"/><text class="nt" x="105" y="29">33</text><text class="p" x="10" y="15">Ковик И. А.</text><text class="r" x="10" y="23">R:450</text><text class="s" x="66" y="31">0:3</text><text class="r" x="10" y="34">R:507</text><text class="w" x="10" y="45">Литвиненко Н....</text></g>
<g id="m34" transform="translate(398,1921)"><use href="#bx"/><text class="nt" x="105" y="29">34</text><text class="p" x="10" y="15">Оглода Р. Л.</text><text class="r" x="10" y="23">R:615</text><text class="s" x="66" y="31">0:3</text><text class="r" x="10" y="34">R:649</text><text class="w" x="10" y="45">Макаренко Р. ?.</text></g>
<g id="m35" transform="translate(573,1141)"><use href="#bx"/><text class="nt" x="105" y="29">35</text><text class="p" x="10" y="15">Иванов Л. Л.</text><text class="r" x="10" y="23">R:658</text><text class="s" x="66" y="31">1:3</text><text class="r" x="10" y="34">R:607</text><text class="w" x="10" y="45">Кохно Ю. С.</text></g>
<g id="m36" transform="translate(573,1381)"><use href="#bx"/><text class="nt" x="105" y="29">36</text><text class="p" x="10" y="15">Лотоха С. ?.</text><text class="r" x="10" y="23">R:627</text><text class="s" x="66" y="31">0:3</text><text class="r" x="10" y="34">R:642</text><text class="w" x="10" y="45">Бугай А. А.</text></g>
<g id="m37" transform="translate(573,1621)"><use href="#bx"/><text class="nt" x="105" y="29">37</text><text class="w" x="10" y="15">Мосейчук А. ?.</text><text class="r" x="10" y="23">R:671</text><text class="s" x="66" y="31">3:1</text><text class="r" x="10" y="34">R:626</text><text class="p" x="10" y="45">Задерей П. А.</text></g>
<g id="m38" transform="translate(573,1861)"><use href="#bx"/><text class="nt" x="105" y="29">38</text><text class="p" x="10" y="15">Литвиненко Н....</text><text class="r" x="10" y="23">R:507</text><text class="s" x="66" y="31">1:3</text><text class="r" x="10" y="34">R:649</text><text class="w" x="10" y="45">Макаренко Р. ?.</text></g>
<g id="m39" transform="translate(748,1261)"><use href="#bx"/><text class="nt" x="105" y="29">39</text><text class="p" x="10" y="15">Кохно Ю. С.</text><text class="r" x="10" y="23">R:607</text><text class="s" x="66" y="31">1:3</text><text class="r" x="10" y="34">R:642</text><text class="w" x="10" y="45">Бугай А. А.</text></g>
<g id="m40" transform="translate(748,1741)"><use href="#bx"/><text class="nt" x="105" y="29">40</text><text class="p" x="10" y="15">Мосейчук А. ?.</text><text class="r" x="10" y="23">R:671</text><text class="s" x="66" y="31">0:3</text><text class="r" x="10" y="34">R:649</text><text class="w" x="10" y="45">Макаренко Р. ?.</text></g>
<g id="m41" transform="translate(923,1501)"><use href="#bx"/><text class="nt" x="105" y="29">41</text><text class="p" x="10" y="15">Бугай А. А.</text><text class="r" x="10" y="23">R:642</text><text class="s" x="66" y="31">0:3</text><text class="r" x="10" y="34">R:649</text><text class="w" x="10" y="45">Макаренко Р. ?.</text><use href="#pT" fill="#fff"/><text class="pt" x="118" y="11">2</text><use href="#pB" fill="#fff"/><text class="pt" x="118" y="48">1</text></g>

<g id="m42" transform="translate(48,2045)"><use href="#bx"/><text class="nt" x="105" y="29">42</text><text class="w" x="10" y="15">Анипсенко ?. ?.</text><text class="r" x="10" y="23">R:262</text><text class="s" x="66" y="31">3:0</text><text class="r" x="10" y="34">R:300</text><text class="p" x="10" y="45">Игнатенко П. ?.</text><use href="#sT"/><text class="st" x="-16.5" y="14">-26</text><use href="#sB"/><text class="st" x="-16.5" y="44">-1</text></g>
<g id="m43" transform="translate(48,2105)"><use href="#bx"/><text class="nt" x="105" y="29">43</text><text class="w" x="10" y="15">Франчук В. Е.</text><text class="r" x="10" y="23">R:300</text><text class="s" x="66" y="31">3:1</text><text class="r" x="10" y="34">R:372</text><text class="p" x="10" y="45">Геврек А. А.</text><use href="#sT"/><text class="st" x="-16.5" y="14">-24</text><use href="#sB"/><text class="st" x="-16.5" y="44">-2</text></g>
<g id="m44" transform="translate(48,2165)"><use href="#bx"/><text class="nt" x="105" y="29">44</text><text class="w" x="10" y="15">Копоть Е. С.</text><text class="r" x="10" y="23">R:550</text><text class="s" x="66" y="31">3:0</text><text class="r" x="10" y="34">R:316</text><text class="p" x="10" y="45">Серт П. В.</text><use href="#sT"/><text class="st" x="-16.5" y="14">-23</text><use href="#sB"/><text class="st" x="-16.5" y="44">-3</text></g>
<g id="m45" transform="translate(48,2225)"><use href="#bx"/><text class="nt" x="105" y="29">45</text><text class="w" x="10" y="15">Антонов Б. ?.</text><text class="r" x="10" y="23">R:468</text><text class="s" x="66" y="31">3:0</text><text class="r" x="10" y="34">R:300</text><text class="p" x="10" y="45">Митиоглу И. ?.</text><use href="#sT"/><text class="st" x="-16.5" y="14">-22</text><use href="#sB"/><text class="st" x="-16.5" y="44">-4</text></g>
<g id="m46" transform="translate(48,2285)"><use href="#bx"/><text class="nt" x="105" y="29">46</text><text class="w" x="10" y="15">Бланар С. С.</text><text class="r" x="10" y="23">R:300</text><text class="s" x="66" y="31">3:0</text><text class="r" x="10" y="34">R:316</text><text class="p" x="10" y="45">Иванов Н. ?.</text><use href="#sT"/><text class="st" x="-16.5" y="14">-19</text><use href="#sB"/><text class="st" x="-16.5" y="44">-5</text></g>
<g id="m47" transform="translate(48,2345)"><use href="#bx"/><text class="nt" x="105" y="29">47</text><text class="w" x="10" y="15">Кизян В. Е.</text><text class="r" x="10" y="23">R:335</text><text class="s" x="66" y="31">3:1</text><text class="r" x="10" y="34">R:300</text><text class="p" x="10" y="45">Виншей В. С.</text><use href="#sT"/><text class="st" x="-16.5" y="14">-18</text><use href="#sB"/><text class="st" x="-16.5" y="44">-6</text></g>
<g id="m48" transform="translate(48,2405)"><use href="#bx"/><text class="nt" x="105" y="29">48</text><text class="p" x="10" y="15">Димитренко В....</text><text class="r" x="10" y="23">R:311</text><text class="s" x="66" y="31">2:3</text><text class="r" x="10" y="34">R:297</text><text class="w" x="10" y="45">Данилов А. ?.</text><use href="#sT"/><text class="st" x="-16.5" y="14">-15</text><use href="#sB"/><text class="st" x="-16.5" y="44">-7</text></g>
<g id="m49" transform="translate(48,2465)"><use href="#bx"/><text class="nt" x="105" y="29">49</text><text class="w" x="10" y="15">Понтус Г. М.</text><text class="r" x="10" y="23">R:436</text><text class="s" x="66" y="31">3:0</text><text class="r" x="10" y="34">R:302</text><text class="p" x="10" y="45">Цуркан С. ?.</text><use href="#sT"/><text class="st" x="-16.5" y="14">-14</text><use href="#sB"/><text class="st" x="-16.5" y="44">-8</text></g>
<g id="m50" transform="translate(48,2525)"><use href="#bx"/><text class="nt" x="105" y="29">50</text><text class="w" x="10" y="15">Долготер Е. ?.</text><text class="r" x="10" y="23">R:393</text><text class="s" x="66" y="31">3:0</text><text class="r" x="10" y="34">R:338</text><text class="p" x="10" y="45">Чмихаленко А....</text><use href="#sT"/><text class="st" x="-16.5" y="14">-13</text><use href="#sB"/><text class="st" x="-16.5" y="44">-9</text></g>
<g id="m51" transform="translate(48,2585)"><use href="#bx"/><text class="nt" x="105" y="29">51</text><text class="p" x="10" y="15">Устинов К. ?.</text><text class="r" x="10" y="23">R:311</text><text class="s" x="66" y="31">0:3</text><text class="r" x="10" y="34">R:324</text><text class="w" x="10" y="45">Дмитренко Г. ?.</text><use href="#sT"/><text class="st" x="-16.5" y="14">-11</text><use href="#sB"/><text class="st" x="-16.5" y="44">-10</text></g>
<g id="m52" transform="translate(223,2045)"><use href="#bx"/><text class="nt" x="105" y="29">52</text><text class="w" x="10" y="15">Анипсенко ?. ?.</text><text class="r" x="10" y="23">R:262</text><text class="s" x="66" y="31">3:1</text><text class="r" x="10" y="34">R:386</text><text class="p" x="10" y="45">Романюк А. ?.</text><use href="#sB"/><text class="st" x="-16.5" y="44">-25</text></g>
<g id="m53" transform="translate(223,2135)"><use href="#bx"/><text class="nt" x="105" y="29">53</text><text class="p" x="10" y="15">Франчук В. Е.</text><text class="r" x="10" y="23">R:300</text><text class="s" x="66" y="31">0:3</text><text class="r" x="10" y="34">R:550</text><text class="w" x="10" y="45">Копоть Е. С.</text></g>
<g id="m54" transform="translate(223,2225)"><use href="#bx"/><text class="nt" x="105" y="29">54</text><text class="w" x="10" y="15">Антонов Б. ?.</text><text class="r" x="10" y="23">R:468</text><text class="s" x="66" y="31">3:1</text><text class="r" x="10" y="34">R:350</text><text class="p" x="10" y="45">Грыцкив А. И.</text><use href="#sB"/><text class="st" x="-16.5" y="44">-21</text></g>
<g id="m55" transform="translate(223,2285)"><use href="#bx"/><text class="nt" x="105" y="29">55</text><text class="w" x="10" y="15">Садченко А. В.</text><text class="r" x="10" y="23">R:495</text><text class="s" x="66" y="31">Тех</text><text class="r" x="10" y="34">R:300</text><text class="p" x="10" y="45">Бланар С. С.</text><use href="#sT"/><text class="st" x="-16.5" y="14">-20</text></g>
<g id="m56" transform="translate(223,2345)"><use href="#bx"/><text class="nt" x="105" y="29">56</text><text class="w" x="10" y="15">Кизян В. Е.</text><text class="r" x="10" y="23">R:335</text><text class="s" x="66" y="31">3:0</text><text class="r" x="10" y="34">R:360</text><text class="p" x="10" y="45">Мышляков С. ?.</text><use href="#sB"/><text class="st" x="-16.5" y="44">-17</text></g>
<g id="m57" transform="translate(223,2405)"><use href="#bx"/><text class="nt" x="105" y="29">57</text><text class="w" x="10" y="15">Фроюк А. ?.</text><text class="r" x="10" y="23">R:310</text><text class="s" x="66" y="31">3:0</text><text class="r" x="10" y="34">R:297</text><text class="p" x="10" y="45">Данилов А. ?.</text><use href="#sT"/><text class="st" x="-16.5" y="14">-16</text></g>
<g id="m58" transform="translate(223,2495)"><use href="#bx"/><text class="nt" x="105" y="29">58</text><text class="p" x="10" y="15">Понтус Г. М.</text><text class="r" x="10" y="23">R:436</text><text class="s" x="66" y="31">2:3</text><text class="r" x="10" y="34">R:393</text><text class="w" x="10" y="45">Долготер Е. ?.</text></g>
<g id="m59" transform="translate(223,2585)"><use href="#bx"/><text class="nt" x="105" y="29">59</text><text class="w" x="10" y="15">Живора Г. В.</text><text class="r" x="10" y="23">R:312</text><text class="s" x="66" y="31">3:2</text><text class="r" x="10" y="34">R:324</text><text class="p" x="10" y="45">Дмитренко Г. ?.</text><use href="#sT"/><text class="st" x="-16.5" y="14">-12</text></g>
<g id="m60" transform="translate(398,2045)"><use href="#bx"/><text class="nt" x="105" y="29">60</text><text class="w" x="10" y="15">Симоненко Я. ?.</text><text class="r" x="10" y="23">R:520</text><text class="s" x="66" y="31">3:1</text><text class="r" x="10" y="34">R:262</text><text class="p" x="10" y="45">Анипсенко ?. ?.</text><use href="#sT"/><text class="st" x="-16.5" y="14">-27</text></g>
<g id="m61" transform="translate(398,2135)"><use href="#bx"/><text class="nt" x="105" y="29">61</text><text class="w" x="10" y="15">Мельников Н. И.</text><text class="r" x="10" y="23">R:600</text><text class="s" x="66" y="31">3:0</text><text class="r" x="10" y="34">R:550</text><text class="p" x="10" y="45">Копоть Е. С.</text><use href="#sT"/><text class="st" x="-16.5" y="14">-28</text></g>
<g id="m62" transform="translate(398,2225)"><use href="#bx"/><text class="nt" x="105" y="29">62</text><text class="w" x="10" y="15">Царев Ю. В.</text><text class="r" x="10" y="23">R:613</text><text class="s" x="66" y="31">3:0</text><text class="r" x="10" y="34">R:468</text><text class="p" x="10" y="45">Антонов Б. ?.</text><use href="#sT"/><text class="st" x="-16.5" y="14">-29</text></g>
<g id="m63" transform="translate(398,2285)"><use href="#bx"/><text class="nt" x="105" y="29">63</text><text class="w" x="10" y="15">Яковлев Г. Г.</text><text class="r" x="10" y="23">R:455</text><text class="s" x="66" y="31">3:1</text><text class="r" x="10" y="34">R:495</text><text class="p" x="10" y="45">Садченко А. В.</text><use href="#sT"/><text class="st" x="-16.5" y="14">-30</text></g>
<g id="m64" transform="translate(398,2345)"><use href="#bx"/><text class="nt" x="105" y="29">64</text><text class="w" x="10" y="15">Шевцов Ю. ?.</text><text class="r" x="10" y="23">R:508</text><text class="s" x="66" y="31">3:0</text><text class="r" x="10" y="34">R:335</text><text class="p" x="10" y="45">Кизян В. Е.</text><use href="#sT"/><text class="st" x="-16.5" y="14">-31</text></g>
<g id="m65" transform="translate(398,2405)"><use href="#bx"/><text class="nt" x="105" y="29">65</text><text class="w" x="10" y="15">Сиренко О. ?.</text><text class="r" x="10" y="23">R:556</text><text class="s" x="66" y="31">3:0</text><text class="r" x="10" y="34">R:310</text><text class="p" x="10" y="45">Фроюк А. ?.</text><use href="#sT"/><text class="st" x="-16.5" y="14">-32</text></g>
<g id="m66" transform="translate(398,2495)"><use href="#bx"/><text class="nt" x="105" y="29">66</text><text class="w" x="10" y="15">Ковик И. А.</text><text class="r" x="10" y="23">R:450</text><text class="s" x="66" y="31">3:1</text><text class="r" x="10" y="34">R:393</text><text class="p" x="10" y="45">Долготер Е. ?.</text><use href="#sT"/><text class="st" x="-16.5" y="14">-33</text></g>
<g id="m67" transform="translate(398,2585)"><use href="#bx"/><text class="nt" x="105" y="29">67</text><text class="w" x="10" y="15">Оглода Р. Л.</text><text class="r" x="10" y="23">R:615</text><text class="s" x="66" y="31">3:0</text><text class="r" x="10" y="34">R:312</text><text class="p" x="10" y="45">Живора Г. В.</text><use href="#sT"/><text class="st" x="-16.5" y="14">-34</text></g>
<g id="m68" transform="translate(573,2090)"><use href="#bx"/><text class="nt" x="105" y="29">68</text><text class="p" x="10" y="15">Симоненко Я. ?.</text><text class="r" x="10" y="23">R:520</text><text class="s" x="66" y="31">2:3</text><text class="r" x="10" y="34">R:600</text><text class="w" x="10" y="45">Мельников Н. И.</text></g>
<g id="m69" transform="translate(573,2255)"><use href="#bx"/><text class="nt" x="105" y="29">69</text><text class="w" x="10" y="15">Царев Ю. В.</text><text class="r" x="10" y="23">R:613</text><text class="s" x="66" y="31">3:1</text><text class="r" x="10" y="34">R:455</text><text class="p" x="10" y="45">Яковлев Г. Г.</text></g>
<g id="m70" transform="translate(573,2375)"><use href="#bx"/><text class="nt" x="105" y="29">70</text><text class="p" x="10" y="15">Шевцов Ю. ?.</text><text class="r" x="10" y="23">R:508</text><text class="s" x="66" y="31">0:3</text><text class="r" x="10" y="34">R:556</text><text class="w" x="10" y="45">Сиренко О. ?.</text></g>
<g id="m71" transform="translate(573,2540)"><use href="#bx"/><text class="nt" x="105" y="29">71</text><text class="w" x="10" y="15">Ковик И. А.</text><text class="r" x="10" y="23">R:450</text><text class="s" x="66" y="31">3:2</text><text class="r" x="10" y="34">R:615</text><text class="p" x="10" y="45">Оглода Р. Л.</text></g>
<g id="m72" transform="translate(748,2090)"><use href="#bx"/><text class="nt" x="105" y="29">72</text><text class="w" x="10" y="15">Литвиненко Н....</text><text class="r" x="10" y="23">R:507</text><text class="s" x="66" y="31">3:1</text><text class="r" x="10" y="34">R:600</text><text class="p" x="10" y="45">Мельников Н. И.</text><use href="#sT"/><text class="st" x="-16.5" y="14">-38</text></g>
<g id="m73" transform="translate(748,2255)"><use href="#bx"/><text class="nt" x="105" y="29">73</text><text class="w" x="10" y="15">Задерей П. А.</text><text class="r" x="10" y="23">R:626</text><text class="s" x="66" y="31">3:2</text><text class="r" x="10" y="34">R:613</text><text class="p" x="10" y="45">Царев Ю. В.</text><use href="#sT"/><text class="st" x="-16.5" y="14">-37</text></g>
<g id="m74" transform="translate(748,2375)"><use href="#bx"/><text class="nt" x="105" y="29">74</text><text class="w" x="10" y="15">Лотоха С. ?.</text><text class="r" x="10" y="23">R:627</text><text class="s" x="66" y="31">3:0</text><text class="r" x="10" y="34">R:556</text><text class="p" x="10" y="45">Сиренко О. ?.</text><use href="#sT"/><text class="st" x="-16.5" y="14">-36</text></g>
<g id="m75" transform="translate(748,2540)"><use href="#bx"/><text class="nt" x="105" y="29">75</text><text class="p" x="10" y="15">Иванов Л. Л.</text><text class="r" x="10" y="23">R:658</text><text class="s" x="66" y="31">2:3</text><text class="r" x="10" y="34">R:450</text><text class="w" x="10" y="45">Ковик И. А.</text><use href="#sT"/><text class="st" x="-16.5" y="14">-35</text></g>
<g id="m76" transform="translate(923,2172.5)"><use href="#bx"/><text class="nt" x="105" y="29">76</text><text class="w" x="10" y="15">Литвиненко Н....</text><text class="r" x="10" y="23">R:507</text><text class="s" x="66" y="31">3:0</text><text class="r" x="10" y="34">R:626</text><text class="p" x="10" y="45">Задерей П. А.</text></g>
<g id="m77" transform="translate(923,2457.5)"><use href="#bx"/><text class="nt" x="105" y="29">77</text><text class="p" x="10" y="15">Лотоха С. ?.</text><text class="r" x="10" y="23">R:627</text><text class="s" x="66" y="31">2:3</text><text class="r" x="10" y="34">R:450</text><text class="w" x="10" y="45">Ковик И. А.</text></g>
<g id="m78" transform="translate(1098,2172.5)"><use href="#bx"/><text class="nt" x="105" y="29">78</text><text class="p" x="10" y="15">Кохно Ю. С.</text><text class="r" x="10" y="23">R:607</text><text class="s" x="66" y="31">0:3</text><text class="r" x="10" y="34">R:507</text><text class="w" x="10" y="45">Литвиненко Н....</text><use href="#sT"/><text class="st" x="-16.5" y="14">-39</text></g>
<g id="m79" transform="translate(1098,2457.5)"><use href="#bx"/><text class="nt" x="105" y="29">79</text><text class="w" x="10" y="15">Мосейчук А. ?.</text><text class="r" x="10" y="23">R:671</text><text class="s" x="66" y="31">3:2</text><text class="r" x="10" y="34">R:450</text><text class="p" x="10" y="45">Ковик И. А.</text><use href="#sT"/><text class="st" x="-16.5" y="14">-40</text></g>
<g id="m80" transform="translate(1273,2315)"><use href="#bx"/><text class="nt" x="105" y="29">80</text><text class="w" x="10" y="15">Литвиненко Н....</text><text class="r" x="10" y="23">R:507</text><text class="s" x="66" y="31">3:2</text><text class="r" x="10" y="34">R:671</text><text class="p" x="10" y="45">Мосейчук А. ?.</text><use href="#pT" fill="#e0ffff"/><text class="pt" x="118" y="11">3</text><use href="#pB" fill="#e0ffff"/><text class="pt" x="118" y="48">4</text></g>

<g id="m115" transform="translate(48,2680)"><use href="#bx"/><text class="nt" x="105" y="29">115</text><text class="p" x="10" y="15">Геврек А. А.</text><text class="r" x="10" y="23">R:372</text><text class="s" x="66" y="31">0:3</text><text class="r" x="10" y="34">R:316</text><text class="w" x="10" y="45">Серт П. В.</text><use href="#sT"/><text class="st" x="-16.5" y="14">-43</text><use href="#sB"/><text class="st" x="-16.5" y="44">-44</text></g>
<g id="m116" transform="translate(48,2860)"><use href="#bx"/><text class="nt" x="105" y="29">116</text><text class="p" x="10" y="15">Цуркан С. ?.</text><text class="r" x="10" y="23">R:302</text><text class="s" x="66" y="31">0:3</text><text class="r" x="10" y="34">R:338</text><text class="w" x="10" y="45">Чмихаленко А....</text><use href="#sT"/><text class="st" x="-16.5" y="14">-49</text><use href="#sB"/><text class="st" x="-16.5" y="44">-50</text></g>
<g id="m117" transform="translate(223,2680)"><use href="#bx"/><text class="nt" x="105" y="29">117</text><text class="p" x="10" y="15">Игнатенко П. ?.</text><text class="r" x="10" y="23">R:300</text><text class="s" x="66" y="31">0:3</text><text class="r" x="10" y="34">R:316</text><text class="w" x="10" y="45">Серт П. В.</text><use href="#sT"/><text class="st" x="-16.5" y="14">-42</text></g>
<g id="m118" transform="translate(223,2740)"><use href="#bx"/><text class="nt" x="105" y="29">118</text><text class="p" x="10" y="15">Митиоглу И. ?.</text><text class="r" x="10" y="23">R:300</text><text class="s" x="66" y="31">0:3</text><text class="r" x="10" y="34">R:316</text><text class="w" x="10" y="45">Иванов Н. ?.</text><use href="#sT"/><text class="st" x="-16.5" y="14">-45</text><use href="#sB"/><text class="st" x="-16.5" y="44">-46</text></g>
<g id="m119" transform="translate(223,2800)"><use href="#bx"/><text class="nt" x="105" y="29">119</text><text class="p" x="10" y="15">Виншей В. С.</text><text class="r" x="10" y="23">R:300</text><text class="s" x="66" y="31">0:3</text><text class="r" x="10" y="34">R:311</text><text class="w" x="10" y="45">Димитренко В....</text><use href="#sT"/><text class="st" x="-16.5" y="14">-47</text><use href="#sB"/><text class="st" x="-16.5" y="44">-48</text></g>
<g id="m120" transform="translate(223,2860)"><use href="#bx"/><text class="nt" x="105" y="29">120</text><text class="w" x="10" y="15">Чмихаленко А....</text><text class="r" x="10" y="23">R:338</text><text class="s" x="66" y="31">3:0</text><text class="r" x="10" y="34">R:311</text><text class="p" x="10" y="45">Устинов К. ?.</text><use href="#sB"/><text class="st" x="-16.5" y="44">-51</text></g>
<g id="m121" transform="translate(398,2710)"><use href="#bx"/><text class="nt" x="105" y="29">121</text><text class="w" x="10" y="15">Серт П. В.</text><text class="r" x="10" y="23">R:316</text><text class="s" x="66" y="31">3:1</text><text class="r" x="10" y="34">R:316</text><text class="p" x="10" y="45">Иванов Н. ?.</text></g>
<g id="m122" transform="translate(398,2830)"><use href="#bx"/><text class="nt" x="105" y="29">122</text><text class="w" x="10" y="15">Димитренко В....</text><text class="r" x="10" y="23">R:311</text><text class="s" x="66" y="31">3:2</text><text class="r" x="10" y="34">R:338</text><text class="p" x="10" y="45">Чмихаленко А....</text></g>
<g id="m123" transform="translate(573,2770)"><use href="#bx"/><text class="nt" x="105" y="29">123</text><text class="p" x="10" y="15">Серт П. В.</text><text class="r" x="10" y="23">R:316</text><text class="s" x="66" y="31">1:3</text><text class="r" x="10" y="34">R:311</text><text class="w" x="10" y="45">Димитренко В....</text><use href="#pT" fill="#ffffe6"/><text class="pt" x="118" y="11">34</text><use href="#pB" fill="#ffffe6"/><text class="pt" x="118" y="48">33</text></g>
<g id="m91" transform="translate(748,2680)"><use href="#bx"/><text class="nt" x="105" y="29">91</text><text class="p" x="10" y="15">Анипсенко ?. ?.</text><text class="r" x="10" y="23">R:262</text><text class="s" x="66" y="31">0:3</text><text class="r" x="10" y="34">R:550</text><text class="w" x="10" y="45">Копоть Е. С.</text><use href="#sT"/><text class="st" x="-16.5" y="14">-60</text><use href="#sB"/><text class="st" x="-16.5" y="44">-61</text></g>
<g id="m92" transform="translate(748,2740)"><use href="#bx"/><text class="nt" x="105" y="29">92</text><text class="w" x="10" y="15">Антонов Б. ?.</text><text class="r" x="10" y="23">R:468</text><text class="s" x="66" y="31">3:2</text><text class="r" x="10" y="34">R:495</text><text class="p" x="10" y="45">Садченко А. В.</text><use href="#sT"/><text class="st" x="-16.5" y="14">-62</text><use href="#sB"/><text class="st" x="-16.5" y="44">-63</text></g>
<g id="m93" transform="translate(748,2800)"><use href="#bx"/><text class="nt" x="105" y="29">93</text><text class="w" x="10" y="15">Кизян В. Е.</text><text class="r" x="10" y="23">R:335</text><text class="s" x="66" y="31">3:1</text><text class="r" x="10" y="34">R:310</text><text class="p" x="10" y="45">Фроюк А. ?.</text><use href="#sT"/><text class="st" x="-16.5" y="14">-64</text><use href="#sB"/><text class="st" x="-16.5" y="44">-65</text></g>
<g id="m94" transform="translate(748,2860)"><use href="#bx"/><text class="nt" x="105" y="29">94</text><text class="p" x="10" y="15">Долготер Е. ?.</text><text class="r" x="10" y="23">R:393</text><text class="s" x="66" y="31">2:3</text><text class="r" x="10" y="34">R:312</text><text class="w" x="10" y="45">Живора Г. В.</text><use href="#sT"/><text class="st" x="-16.5" y="14">-66</text><use href="#sB"/><text class="st" x="-16.5" y="44">-67</text></g>
<g id="m95" transform="translate(923,2710)"><use href="#bx"/><text class="nt" x="105" y="29">95</text><text class="w" x="10" y="15">Копоть Е. С.</text><text class="r" x="10" y="23">R:550</text><text class="s" x="66" y="31">3:2</text><text class="r" x="10" y="34">R:468</text><text class="p" x="10" y="45">Антонов Б. ?.</text></g>
<g id="m96" transform="translate(923,2830)"><use href="#bx"/><text class="nt" x="105" y="29">96</text><text class="p" x="10" y="15">Кизян В. Е.</text><text class="r" x="10" y="23">R:335</text><text class="s" x="66" y="31">1:3</text><text class="r" x="10" y="34">R:312</text><text class="w" x="10" y="45">Живора Г. В.</text></g>
<g id="m97" transform="translate(1098,2770)"><use href="#bx"/><text class="nt" x="105" y="29">97</text><text class="w" x="10" y="15">Копоть Е. С.</text><text class="r" x="10" y="23">R:550</text><text class="s" x="66" y="31">3:0</text><text class="r" x="10" y="34">R:312</text><text class="p" x="10" y="45">Живора Г. В.</text><use href="#pT" fill="#ffffe6"/><text class="pt" x="118" y="11">17</text><use href="#pB" fill="#ffffe6"/><text class="pt" x="118" y="48">18</text></g>
<g id="m81" transform="translate(1273,2680)"><use href="#bx"/><text class="nt" x="105" y="29">81</text><text class="w" x="10" y="15">Кохно Ю. С.</text><text class="r" x="10" y="23">R:607</text><text class="s" x="66" y="31">3:1</text><text class="r" x="10" y="34">R:450</text><text class="p" x="10" y="45">Ковик И. А.</text><use href="#sT"/><text class="st" x="-16.5" y="14">-78</text><use href="#sB"/><text class="st" x="-16.5" y="44">-79</text><use href="#pT" fill="#ffffe6"/><text class="pt" x="118" y="11">5</text><use href="#pB" fill="#ffffe6"/><text class="pt" x="118" y="48">6</text></g>
<g id="m82" transform="translate(1273,2775)"><use href="#bx"/><text class="nt" x="105" y="29">82</text><text class="w" x="10" y="15">Задерей П. А.</text><text class="r" x="10" y="23">R:626</text><text class="s" x="66" y="31">3:2</text><text class="r" x="10" y="34">R:627</text><text class="p" x="10" y="45">Лотоха С. ?.</text><use href="#sT"/><text class="st" x="-16.5" y="14">-76</text><use href="#sB"/><text class="st" x="-16.5" y="44">-77</text><use href="#pT" fill="#ffffe6"/><text class="pt" x="118" y="11">7</text><use href="#pB" fill="#ffffe6"/><text class="pt" x="118" y="48">8</text></g>
<g id="m103" transform="translate(48,2955)"><use href="#bx"/><text class="nt" x="105" y="29">103</text><text class="w" x="10" y="15">Романюк А. ?.</text><text class="r" x="10" y="23">R:386</text><text class="s" x="66" y="31">3:2</text><text class="r" x="10" y="34">R:300</text><text class="p" x="10" y="45">Франчук В. Е.</text><use href="#sT"/><text class="st" x="-16.5" y="14">-52</text><use href="#sB"/><text class="st" x="-16.5" y="44">-53</text></g>
<g id="m104" transform="translate(48,3015)"><use href="#bx"/><text class="nt" x="105" y="29">104</text><text class="w" x="10" y="15">Грыцкив А. И.</text><text class="r" x="10" y="23">R:350</text><text class="s" x="66" y="31">Тех</text><text class="r" x="10" y="34">R:300</text><text class="p" x="10" y="45">Бланар С. С.</text><use href="#sT"/><text class="st" x="-16.5" y="14">-54</text><use href="#sB"/><text class="st" x="-16.5" y="44">-55</text></g>
<g id="m105" transform="translate(48,3075)"><use href="#bx"/><text class="nt" x="105" y="29">105</text><text class="p" x="10" y="15">Мышляков С. ?.</text><text class="r" x="10" y="23">R:360</text><text class="s" x="66" y="31">Тех</text><text class="r" x="10" y="34">R:297</text><text class="w" x="10" y="45">Данилов А. ?.</text><use href="#sT"/><text class="st" x="-16.5" y="14">-56</text><use href="#sB"/><text class="st" x="-16.5" y="44">-57</text></g>
<g id="m106" transform="translate(48,3135)"><use href="#bx"/><text class="nt" x="105" y="29">106</text><text class="w" x="10" y="15">Понтус Г. М.</text><text class="r" x="10" y="23">R:436</text><text class="s" x="66" y="31">3:0</text><text class="r" x="10" y="34">R:324</text><text class="p" x="10" y="45">Дмитренко Г. ?.</text><use href="#sT"/><text class="st" x="-16.5" y="14">-58</text><use href="#sB"/><text class="st" x="-16.5" y="44">-59</text></g>
<g id="m107" transform="translate(223,2985)"><use href="#bx"/><text class="nt" x="105" y="29">107</text><text class="w" x="10" y="15">Романюк А. ?.</text><text class="r" x="10" y="23">R:386</text><text class="s" x="66" y="31">3:0</text><text class="r" x="10" y="34">R:350</text><text class="p" x="10" y="45">Грыцкив А. И.</text></g>
<g id="m108" transform="translate(223,3105)"><use href="#bx"/><text class="nt" x="105" y="29">108</text><text class="p" x="10" y="15">Данилов А. ?.</text><text class="r" x="10" y="23">R:297</text><text class="s" x="66" y="31">0:3</text><text class="r" x="10" y="34">R:436</text><text class="w" x="10" y="45">Понтус Г. М.</text></g>
<g id="m109" transform="translate(398,3045)"><use href="#bx"/><text class="nt" x="105" y="29">109</text><text class="p" x="10" y="15">Романюк А. ?.</text><text class="r" x="10" y="23">R:386</text><text class="s" x="66" y="31">0:3</text><text class="r" x="10" y="34">R:436</text><text class="w" x="10" y="45">Понтус Г. М.</text><use href="#pT" fill="#ffffe6"/><text class="pt" x="118" y="11">26</text><use href="#pB" fill="#ffffe6"/><text class="pt" x="118" y="48">25</text></g>
<g id="m87" transform="translate(573,2955)"><use href="#bx"/><text class="nt" x="105" y="29">87</text><text class="p" x="10" y="15">Симоненко Я. ?.</text><text class="r" x="10" y="23">R:520</text><text class="s" x="66" y="31">1:3</text><text class="r" x="10" y="34">R:455</text><text class="w" x="10" y="45">Яковлев Г. Г.</text><use href="#sT"/><text class="st" x="-16.5" y="14">-68</text><use href="#sB"/><text class="st" x="-16.5" y="44">-69</text></g>
<g id="m88" transform="translate(573,3015)"><use href="#bx"/><text class="nt" x="105" y="29">88</text><text class="p" x="10" y="15">Шевцов Ю. ?.</text><text class="r" x="10" y="23">R:508</text><text class="s" x="66" y="31">1:3</text><text class="r" x="10" y="34">R:615</text><text class="w" x="10" y="45">Оглода Р. Л.</text><use href="#sT"/><text class="st" x="-16.5" y="14">-70</text><use href="#sB"/><text class="st" x="-16.5" y="44">-71</text></g>
<g id="m89" transform="translate(748,2985)"><use href="#bx"/><text class="nt" x="105" y="29">89</text><text class="w" x="10" y="15">Яковлев Г. Г.</text><text class="r" x="10" y="23">R:455</text><text class="s" x="66" y="31">3:1</text><text class="r" x="10" y="34">R:615</text><text class="p" x="10" y="45">Оглода Р. Л.</text><use href="#pT" fill="#ffffe6"/><text class="pt" x="118" y="11">13</text><use href="#pB" fill="#ffffe6"/><text class="pt" x="118" y="48">14</text></g>
<g id="m83" transform="translate(923,2955)"><use href="#bx"/><text class="nt" x="105" y="29">83</text><text class="p" x="10" y="15">Мельников Н. И.</text><text class="r" x="10" y="23">R:600</text><text class="s" x="66" y="31">0:3</text><text class="r" x="10" y="34">R:613</text><text class="w" x="10" y="45">Царев Ю. В.</text><use href="#sT"/><text class="st" x="-16.5" y="14">-72</text><use href="#sB"/><text class="st" x="-16.5" y="44">-73</text></g>
<g id="m84" transform="translate(923,3015)"><use href="#bx"/><text class="nt" x="105" y="29">84</text><text class="w" x="10" y="15">Сиренко О. ?.</text><text class="r" x="10" y="23">R:556</text><text class="s" x="66" y="31">Тех</text><text class="r" x="10" y="34">R:658</text><text class="p" x="10" y="45">Иванов Л. Л.</text><use href="#sT"/><text class="st" x="-16.5" y="14">-74</text><use href="#sB"/><text class="st" x="-16.5" y="44">-75</text></g>
<g id="m85" transform="translate(1098,2985)"><use href="#bx"/><text class="nt" x="105" y="29">85</text><text class="w" x="10" y="15">Царев Ю. В.</text><text class="r" x="10" y="23">R:613</text><text class="s" x="66" y="31">3:0</text><text class="r" x="10" y="34">R:556</text><text class="p" x="10" y="45">Сиренко О. ?.</text><use href="#pT" fill="#ffffe6"/><text class="pt" x="118" y="11">9</text><use href="#pB" fill="#ffffe6"/><text class="pt" x="118" y="48">10</text></g>
<g id="m86" transform="translate(1273,2955)"><use href="#bx"/><text class="nt" x="105" y="29">86</text><text class="w" x="10" y="15">Мельников Н. И.</text><text class="r" x="10" y="23">R:600</text><text class="s" x="66" y="31">Тех</text><text class="r" x="10" y="34">R:658</text><text class="p" x="10" y="45">Иванов Л. Л.</text><use href="#sT"/><text class="st" x="-16.5" y="14">-83</text><use href="#sB"/><text class="st" x="-16.5" y="44">-84</text><use href="#pT" fill="#ffffe6"/><text class="pt" x="118" y="11">11</text><use href="#pB" fill="#ffffe6"/><text class="pt" x="118" y="48">12</text></g>
<g id="m110" transform="translate(1273,3050)"><use href="#bx"/><text class="nt" x="105" y="29">110</text><text class="p" x="10" y="15">Грыцкив А. И.</text><text class="r" x="10" y="23">R:350</text><text class="s" x="66" y="31">0:3</text><text class="r" x="10" y="34">R:297</text><text class="w" x="10" y="45">Данилов А. ?.</text><use href="#sT"/><text class="st" x="-16.5" y="14">-107</text><use href="#sB"/><text class="st" x="-16.5" y="44">-108</text><use href="#pT" fill="#ffffe6"/><text class="pt" x="118" y="11">28</text><use href="#pB" fill="#ffffe6"/><text class="pt" x="118" y="48">27</text></g>
<g id="m114" transform="translate(573,3111)"><use href="#bx"/><text class="nt" x="105" y="29">114</text><text class="p" x="10" y="15">Бланар С. С.</text><text class="r" x="10" y="23">R:300</text><text class="s" x="66" y="31">Тех</text><text class="r" x="10" y="34">R:360</text><text class="w" x="10" y="45">Мышляков С. ?.</text><use href="#sT"/><text class="st" x="-16.5" y="14">-111</text><use href="#sB"/><text class="st" x="-16.5" y="44">-112</text><use href="#pT" fill="#ffffe6"/><text class="pt" x="118" y="11">32</text><use href="#pB" fill="#ffffe6"/><text class="pt" x="118" y="48">31</text></g>
<g id="m102" transform="translate(748,3111)"><use href="#bx"/><text class="nt" x="105" y="29">102</text><text class="w" x="10" y="15">Анипсенко ?. ?.</text><text class="r" x="10" y="23">R:262</text><text class="s" x="66" y="31">Тех</text><text class="r" x="10" y="34">R:393</text><text class="p" x="10" y="45">Долготер Е. ?.</text><use href="#sT"/><text class="st" x="-16.5" y="14">-99</text><use href="#sB"/><text class="st" x="-16.5" y="44">-100</text><use href="#pT" fill="#ffffe6"/><text class="pt" x="118" y="11">23</text><use href="#pB" fill="#ffffe6"/><text class="pt" x="118" y="48">24</text></g>
<g id="m98" transform="translate(923,3111)"><use href="#bx"/><text class="nt" x="105" y="29">98</text><text class="w" x="10" y="15">Антонов Б. ?.</text><text class="r" x="10" y="23">R:468</text><text class="s" x="66" y="31">Тех</text><text class="r" x="10" y="34">R:335</text><text class="p" x="10" y="45">Кизян В. Е.</text><use href="#sT"/><text class="st" x="-16.5" y="14">-95</text><use href="#sB"/><text class="st" x="-16.5" y="44">-96</text><use href="#pT" fill="#ffffe6"/><text class="pt" x="118" y="11">19</text><use href="#pB" fill="#ffffe6"/><text class="pt" x="118" y="48">20</text></g>
<g id="m90" transform="translate(1098,3111)"><use href="#bx"/><text class="nt" x="105" y="29">90</text><text class="w" x="10" y="15">Симоненко Я. ?.</text><text class="r" x="10" y="23">R:520</text><text class="s" x="66" y="31">Тех</text><text class="r" x="10" y="34">R:508</text><text class="p" x="10" y="45">Шевцов Ю. ?.</text><use href="#sT"/><text class="st" x="-16.5" y="14">-87</text><use href="#sB"/><text class="st" x="-16.5" y="44">-88</text><use href="#pT" fill="#ffffe6"/><text class="pt" x="118" y="11">15</text><use href="#pB" fill="#ffffe6"/><text class="pt" x="118" y="48">16</text></g>
<g id="m125" transform="translate(48,3231)"><use href="#bx"/><text class="nt" x="105" y="29">125</text><text class="w" x="10" y="15">Игнатенко П. ?.</text><text class="r" x="10" y="23">R:300</text><text class="s" x="66" y="31">Тех</text><text class="r" x="10" y="34">R:300</text><text class="p" x="10" y="45">Митиоглу И. ?.</text><use href="#sT"/><text class="st" x="-16.5" y="14">-117</text><use href="#sB"/><text class="st" x="-16.5" y="44">-118</text></g>
<g id="m126" transform="translate(48,3291)"><use href="#bx"/><text class="nt" x="105" y="29">126</text><text class="w" x="10" y="15">Виншей В. С.</text><text class="r" x="10" y="23">R:300</text><text class="s" x="66" y="31">3:0</text><text class="r" x="10" y="34">R:311</text><text class="p" x="10" y="45">Устинов К. ?.</text><use href="#sT"/><text class="st" x="-16.5" y="14">-119</text><use href="#sB"/><text class="st" x="-16.5" y="44">-120</text></g>
<g id="m127" transform="translate(223,3261)"><use href="#bx"/><text class="nt" x="105" y="29">127</text><text class="p" x="10" y="15">Игнатенко П. ?.</text><text class="r" x="10" y="23">R:300</text><text class="s" x="66" y="31">1:3</text><text class="r" x="10" y="34">R:300</text><text class="w" x="10" y="45">Виншей В. С.</text><use href="#pT" fill="#ffffe6"/><text class="pt" x="118" y="11">38</text><use href="#pB" fill="#ffffe6"/><text class="pt" x="118" y="48">37</text></g>
<g id="m111" transform="translate(398,3231)"><use href="#bx"/><text class="nt" x="105" y="29">111</text><text class="w" x="10" y="15">Франчук В. Е.</text><text class="r" x="10" y="23">R:300</text><text class="s" x="66" y="31">Тех</text><text class="r" x="10" y="34">R:300</text><text class="p" x="10" y="45">Бланар С. С.</text><use href="#sT"/><text class="st" x="-16.5" y="14">-103</text><use href="#sB"/><text class="st" x="-16.5" y="44">-104</text></g>
<g id="m112" transform="translate(398,3291)"><use href="#bx"/><text class="nt" x="105" y="29">112</text><text class="p" x="10" y="15">Мышляков С. ?.</text><text class="r" x="10" y="23">R:360</text><text class="s" x="66" y="31">Тех</text><text class="r" x="10" y="34">R:324</text><text class="w" x="10" y="45">Дмитренко Г. ?.</text><use href="#sT"/><text class="st" x="-16.5" y="14">-105</text><use href="#sB"/><text class="st" x="-16.5" y="44">-106</text></g>
<g id="m113" transform="translate(573,3261)"><use href="#bx"/><text class="nt" x="105" y="29">113</text><text class="p" x="10" y="15">Франчук В. Е.</text><text class="r" x="10" y="23">R:300</text><text class="s" x="66" y="31">Тех</text><text class="r" x="10" y="34">R:324</text><text class="w" x="10" y="45">Дмитренко Г. ?.</text><use href="#pT" fill="#ffffe6"/><text class="pt" x="118" y="11">30</text><use href="#pB" fill="#ffffe6"/><text class="pt" x="118" y="48">29</text></g>
<g id="m99" transform="translate(748,3231)"><use href="#bx"/><text class="nt" x="105" y="29">99</text><text class="p" x="10" y="15">Анипсенко ?. ?.</text><text class="r" x="10" y="23">R:262</text><text class="s" x="66" y="31">1:3</text><text class="r" x="10" y="34">R:495</text><text class="w" x="10" y="45">Садченко А. В.</text><use href="#sT"/><text class="st" x="-16.5" y="14">-91</text><use href="#sB"/><text class="st" x="-16.5" y="44">-92</text></g>
<g id="m100" transform="translate(748,3291)"><use href="#bx"/><text class="nt" x="105" y="29">100</text><text class="w" x="10" y="15">Фроюк А. ?.</text><text class="r" x="10" y="23">R:310</text><text class="s" x="66" y="31">Тех</text><text class="r" x="10" y="34">R:393</text><text class="p" x="10" y="45">Долготер Е. ?.</text><use href="#sT"/><text class="st" x="-16.5" y="14">-93</text><use href="#sB"/><text class="st" x="-16.5" y="44">-94</text></g>
<g id="m101" transform="translate(923,3261)"><use href="#bx"/><text class="nt" x="105" y="29">101</text><text class="w" x="10" y="15">Садченко А. В.</text><text class="r" x="10" y="23">R:495</text><text class="s" x="66" y="31">Тех</text><text class="r" x="10" y="34">R:310</text><text class="p" x="10" y="45">Фроюк А. ?.</text><use href="#pT" fill="#ffffe6"/><text class="pt" x="118" y="11">21</text><use href="#pB" fill="#ffffe6"/><text class="pt" x="118" y="48">22</text></g>
<g id="m128" transform="translate(1098,3231)"><use href="#bx"/><text class="nt" x="105" y="29">128</text><text class="p" x="10" y="15">Митиоглу И. ?.</text><text class="r" x="10" y="23">R:300</text><text class="s" x="66" y="31">Тех</text><text class="r" x="10" y="34">R:311</text><text class="w" x="10" y="45">Устинов К. ?.</text><use href="#sT"/><text class="st" x="-16.5" y="14">-125</text><use href="#sB"/><text class="st" x="-16.5" y="44">-126</text><use href="#pT" fill="#ffffe6"/><text class="pt" x="118" y="11">40</text><use href="#pB" fill="#ffffe6"/><text class="pt" x="118" y="48">39</text></g>
<g id="m124" transform="translate(1273,3231)"><use href="#bx"/><text class="nt" x="105" y="29">124</text><text class="p" x="10" y="15">Иванов Н. ?.</text><text class="r" x="10" y="23">R:316</text><text class="s" x="66" y="31">Тех</text><text class="r" x="10" y="34">R:338</text><text class="w" x="10" y="45">Чмихаленко А....</text><use href="#sT"/><text class="st" x="-16.5" y="14">-121</text><use href="#sB"/><text class="st" x="-16.5" y="44">-122</text><use href="#pT" fill="#ffffe6"/><text class="pt" x="118" y="11">36</text><use href="#pB" fill="#ffffe6"/><text class="pt" x="118" y="48">35</text></g>
<g id="m129" transform="translate(48,3385)"><use href="#bx"/><text class="nt" x="105" y="29">129</text><text class="w" x="10" y="15">Геврек А. А.</text><text class="r" x="10" y="23">R:372</text><text class="s" x="66" y="31">3:0</text><text class="r" x="10" y="34">R:302</text><text class="p" x="10" y="45">Цуркан С. ?.</text><use href="#sT"/><text class="st" x="-16.5" y="14">-115</text><use href="#sB"/><text class="st" x="-16.5" y="44">-116</text><use href="#pT" fill="#ffffe6"/><text class="pt" x="118" y="11">41</text><use href="#pB" fill="#ffffe6"/><text class="pt" x="118" y="48">42</text></g>
</g>
</svg>
